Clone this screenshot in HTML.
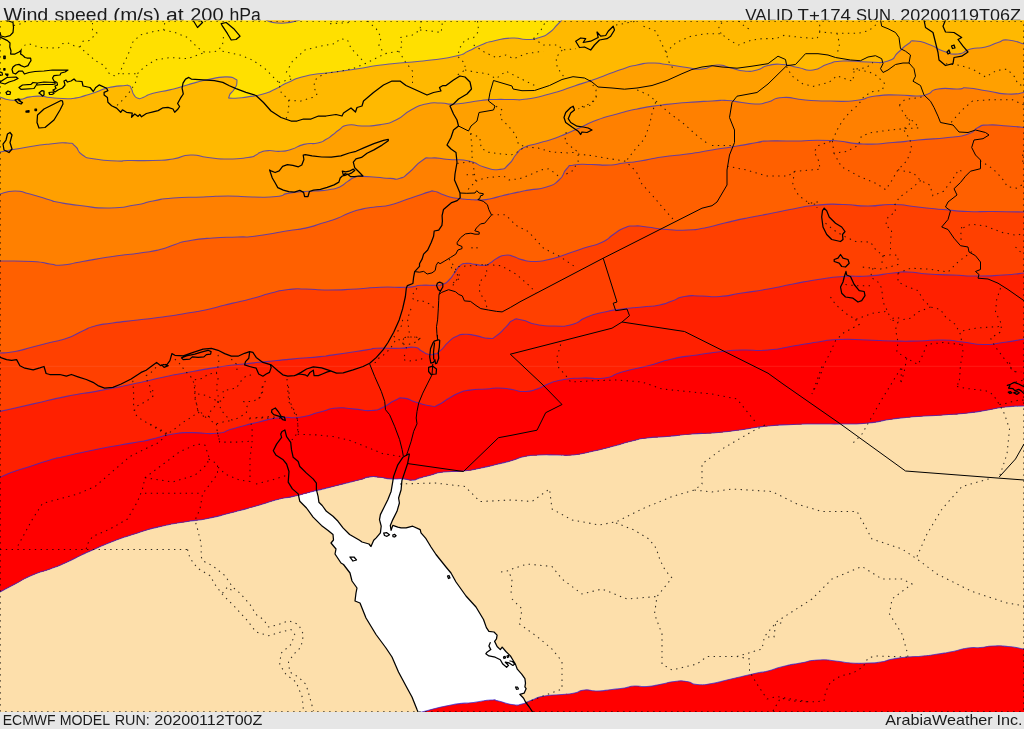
<!DOCTYPE html>
<html><head><meta charset="utf-8"><title>Wind speed (m/s) at 200 hPa</title>
<style>
html,body{margin:0;padding:0;background:#e6e6e6;}
body{width:1024px;height:729px;overflow:hidden;position:relative;font-family:"Liberation Sans",sans-serif;}
svg text{font-family:"Liberation Sans",sans-serif;fill:#1a1a1a;}
</style></head><body>
<svg width="1024" height="729" viewBox="0 0 1024 729" style="position:absolute;left:0;top:0">
<defs><clipPath id="mc"><rect x="0" y="20.6" width="1024" height="691.4"/></clipPath></defs>
<g style="filter:grayscale(1)">
<text x="3.45" y="21" font-size="17.66" textLength="44.90" lengthAdjust="spacingAndGlyphs">Wind</text>
<text x="54.57" y="21" font-size="17.66" textLength="52.89" lengthAdjust="spacingAndGlyphs">speed</text>
<text x="113.37" y="21" font-size="17.66" textLength="46.65" lengthAdjust="spacingAndGlyphs">(m/s)</text>
<text x="165.90" y="21" font-size="17.66" textLength="17.64" lengthAdjust="spacingAndGlyphs">at</text>
<text x="190.20" y="21" font-size="17.66" textLength="33.37" lengthAdjust="spacingAndGlyphs">200</text>
<text x="229.41" y="21" font-size="17.66" textLength="31.38" lengthAdjust="spacingAndGlyphs">hPa</text>
<text x="745.26" y="21" font-size="16.80" textLength="47.82" lengthAdjust="spacingAndGlyphs">VALID</text>
<text x="797.53" y="21" font-size="16.80" textLength="53.40" lengthAdjust="spacingAndGlyphs">T+174</text>
<text x="855.95" y="21" font-size="16.80" textLength="39.63" lengthAdjust="spacingAndGlyphs">SUN.</text>
<text x="900.20" y="21" font-size="16.80" textLength="120.77" lengthAdjust="spacingAndGlyphs">20200119T06Z</text>
<text x="2.78" y="724.90" font-size="14.50" textLength="52.87" lengthAdjust="spacingAndGlyphs">ECMWF</text>
<text x="59.66" y="724.90" font-size="14.50" textLength="50.48" lengthAdjust="spacingAndGlyphs">MODEL</text>
<text x="114.65" y="724.90" font-size="14.50" textLength="35.14" lengthAdjust="spacingAndGlyphs">RUN:</text>
<text x="154.29" y="724.90" font-size="14.50" textLength="108.12" lengthAdjust="spacingAndGlyphs">20200112T00Z</text>
<text x="885.30" y="724.90" font-size="14.50" textLength="107.44" lengthAdjust="spacingAndGlyphs">ArabiaWeather</text>
<text x="996.44" y="724.90" font-size="14.50" textLength="26.11" lengthAdjust="spacingAndGlyphs">Inc.</text>
</g>

<g clip-path="url(#mc)">
<rect x="0" y="20" width="1024" height="693" fill="#fddfab"/>
<path d="M284.9 430.0L282.0 431.5L280.7 434.1L281.6 437.4L276.6 444.1L273.3 450.7L275.8 454.9L283.2 459.8L286.6 464.0L289.0 471.5L288.2 482.2L292.4 488.9L298.2 493.9L299.8 501.3L306.5 508.0L313.1 517.1L321.4 525.4L328.1 530.4L333.0 534.5L333.5 540.0L331.0 543.0L336.0 549.0L335.0 554.0L341.0 563.0L343.5 564.5L350.0 573.0L352.0 581.0L357.0 588.0L356.0 593.0L355.0 601.0L360.0 603.0L366.0 618.0L376.0 634.5L386.0 648.0L392.0 657.0L398.5 672.0L406.0 686.0L412.0 697.0L417.0 709.5L418.5 713.0L533.0 713.0L531.8 710.8L529.3 707.0L525.5 702.0L523.6 698.2L521.7 696.3L519.8 694.4L524.2 693.1L526.1 688.7L524.9 686.8L525.5 683.1L524.9 678.6L521.7 674.2L517.3 669.2L515.4 664.1L513.5 661.0L510.4 655.9L505.9 651.5L502.2 647.1L500.3 649.6L497.1 646.5L494.6 641.4L496.5 638.9L497.1 635.1L494.0 632.0L488.9 631.3L486.4 627.6L483.5 619.5L476.0 607.0L466.0 596.0L456.0 582.0L451.0 573.0L446.0 567.0L436.0 554.5L431.0 547.0L426.0 538.7L421.0 532.9L420.2 529.6L412.7 526.2L406.1 527.9L401.1 527.9L397.8 527.1L392.8 525.4L391.1 530.4L390.3 525.4L392.8 519.6L397.0 511.3L399.4 503.0L398.6 498.0L401.1 489.7L401.9 480.6L404.4 473.1L407.7 463.2L409.4 454.0L408.6 454.0L402.8 457.3L397.8 464.8L393.6 476.4L392.8 481.4L391.1 491.4L387.8 499.7L383.7 508.0L380.4 514.6L379.5 519.6L381.2 526.2L380.4 532.9L376.2 537.9L373.7 540.3L371.0 546.5L369.0 544.0L362.0 542.0L359.6 540.3L349.6 534.5L343.0 527.9L338.0 521.3L333.0 516.3L326.4 511.3L322.2 505.5L318.9 502.2L318.1 496.4L316.4 489.7L316.4 483.1L313.1 478.9L306.5 473.1L299.8 466.5L298.2 461.5L293.2 457.3L291.5 449.9L290.7 442.4L286.6 436.6L284.9 430.0Z" fill="#fff"/>
<path d="M0 20 L1024 20L1024.0 406.0C1017.8 406.3 1017.5 405.7 1005.5 407.0C993.5 408.3 1000.5 408.0 988.0 410.0C975.5 412.0 983.0 411.3 968.0 413.0C953.0 414.7 959.7 413.8 943.0 415.0C926.3 416.2 934.7 415.2 918.0 416.5C901.3 417.8 909.7 416.8 893.0 419.0C876.3 421.2 884.7 421.3 868.0 423.0C851.3 424.7 859.7 423.7 843.0 424.0C826.3 424.3 834.7 423.8 818.0 424.0C801.3 424.2 809.7 423.8 793.0 424.5C776.3 425.2 782.5 424.7 768.0 426.0C753.5 427.3 761.5 426.8 749.5 428.5C737.5 430.2 744.5 429.5 732.0 431.0C719.5 432.5 725.3 432.0 712.0 433.0C698.7 434.0 707.0 432.8 692.0 434.0C677.0 435.2 682.0 435.2 667.0 436.5C652.0 437.8 658.7 436.5 647.0 438.0C635.3 439.5 643.7 438.2 632.0 441.0C620.3 443.8 626.2 442.8 612.0 446.5C597.8 450.2 602.8 449.2 589.5 452.0C576.2 454.8 582.8 454.0 572.0 455.0C561.2 456.0 567.8 455.0 557.0 455.0C546.2 455.0 550.3 454.5 539.5 455.0C528.7 455.5 533.7 454.7 524.5 456.5C515.3 458.3 521.5 457.8 512.0 460.5C502.5 463.2 506.3 462.0 496.0 464.5C485.7 467.0 491.8 465.8 481.0 468.0C470.2 470.2 476.0 469.7 463.5 471.0C451.0 472.3 454.7 470.6 443.5 472.0C432.3 473.4 438.0 473.3 430.0 475.3C422.0 477.3 425.2 476.5 419.4 478.1C413.6 479.7 418.2 479.8 412.7 480.1C407.2 480.4 410.0 479.3 402.8 478.9C395.6 478.5 398.9 479.4 391.1 478.9C383.3 478.4 386.7 478.0 379.5 477.3C372.3 476.6 376.2 476.1 369.6 476.9C363.0 477.7 368.5 477.5 359.6 479.8C350.7 482.1 354.1 481.1 343.0 483.9C331.9 486.7 337.5 485.3 326.4 488.1C315.3 490.9 320.9 489.4 309.8 492.2C298.7 495.0 304.3 493.9 293.2 496.4C282.1 498.9 289.0 496.5 276.6 499.7C264.2 502.9 271.5 501.6 256.0 506.0C240.5 510.4 246.2 508.8 230.0 513.0C213.8 517.2 221.7 515.7 207.5 518.5C193.3 521.3 202.5 519.0 187.5 521.5C172.5 524.0 179.2 522.2 162.5 526.0C145.8 529.8 154.2 527.8 137.5 533.0C120.8 538.2 127.5 535.8 112.5 541.5C97.5 547.2 102.5 545.7 92.5 550.0C82.5 554.3 91.7 550.2 82.5 554.5C73.3 558.8 75.8 558.2 65.0 563.0C54.2 567.8 60.8 565.0 50.0 569.0C39.2 573.0 44.2 570.0 32.5 575.0C20.8 580.0 25.8 578.3 15.0 584.0C4.2 589.7 5.0 589.3 0.0 592.0Z" fill="#ffe000"/>
<path d="M0.0 97.0C3.3 98.0 3.3 99.2 10.0 100.0C16.7 100.8 13.3 100.4 20.0 99.4C26.7 98.4 22.9 98.0 30.0 96.9C37.1 95.8 34.5 96.0 41.2 96.2C47.9 96.4 42.9 96.7 50.0 97.5C57.1 98.3 54.2 98.3 62.5 98.5C70.8 98.7 67.5 99.1 75.0 98.1C82.5 97.1 78.3 97.5 85.0 95.6C91.7 93.7 88.8 94.7 95.0 92.5C101.2 90.3 97.9 90.9 103.7 89.0C109.5 87.1 106.0 88.0 112.5 86.9C119.0 85.8 117.7 86.1 123.2 85.7C128.7 85.3 126.2 84.6 129.0 85.7C131.8 86.8 129.8 85.9 131.5 89.0C133.2 92.1 131.8 91.8 134.0 94.9C136.2 98.0 135.1 97.4 138.1 98.2C141.1 99.0 138.1 99.1 143.1 97.4C148.1 95.7 144.2 95.7 153.1 93.2C162.0 90.7 159.7 92.2 169.7 89.9C179.7 87.6 174.2 88.7 183.0 86.2C191.8 83.7 186.3 84.9 196.2 82.4C206.1 79.9 202.8 80.4 212.8 78.6C222.8 76.8 218.9 76.9 226.1 76.9C233.3 76.9 230.8 76.8 234.4 78.6C238.0 80.4 236.9 78.9 236.9 82.4C236.9 85.9 236.9 84.6 234.4 89.0C231.9 93.4 229.9 92.6 229.4 95.7C228.9 98.8 226.7 97.8 232.8 98.2C238.9 98.6 237.6 98.3 247.7 96.9C257.8 95.5 253.7 96.6 263.0 94.0C272.3 91.4 267.2 92.8 275.5 89.0C283.8 85.2 277.8 86.8 288.0 82.5C298.2 78.2 291.7 79.3 306.0 76.0C320.3 72.7 314.3 74.8 331.0 72.5C347.7 70.2 339.3 71.5 356.0 69.0C372.7 66.5 364.3 67.2 381.0 65.0C397.7 62.8 389.3 64.2 406.0 62.5C422.7 60.8 414.3 62.2 431.0 60.0C447.7 57.8 443.5 59.0 456.0 56.0C468.5 53.0 460.2 54.7 468.5 51.0C476.8 47.3 472.7 48.3 481.0 45.0C489.3 41.7 483.2 43.3 493.5 41.0C503.8 38.7 500.8 38.5 512.0 38.0C523.2 37.5 517.8 39.7 527.0 39.5C536.2 39.3 532.0 39.8 539.5 37.5C547.0 35.2 543.7 36.7 549.5 32.5C555.3 28.3 552.8 29.2 557.0 25.0C561.2 20.8 560.3 21.7 562.0 20.0L1024 20L1024.0 406.0C1017.8 406.3 1017.5 405.7 1005.5 407.0C993.5 408.3 1000.5 408.0 988.0 410.0C975.5 412.0 983.0 411.3 968.0 413.0C953.0 414.7 959.7 413.8 943.0 415.0C926.3 416.2 934.7 415.2 918.0 416.5C901.3 417.8 909.7 416.8 893.0 419.0C876.3 421.2 884.7 421.3 868.0 423.0C851.3 424.7 859.7 423.7 843.0 424.0C826.3 424.3 834.7 423.8 818.0 424.0C801.3 424.2 809.7 423.8 793.0 424.5C776.3 425.2 782.5 424.7 768.0 426.0C753.5 427.3 761.5 426.8 749.5 428.5C737.5 430.2 744.5 429.5 732.0 431.0C719.5 432.5 725.3 432.0 712.0 433.0C698.7 434.0 707.0 432.8 692.0 434.0C677.0 435.2 682.0 435.2 667.0 436.5C652.0 437.8 658.7 436.5 647.0 438.0C635.3 439.5 643.7 438.2 632.0 441.0C620.3 443.8 626.2 442.8 612.0 446.5C597.8 450.2 602.8 449.2 589.5 452.0C576.2 454.8 582.8 454.0 572.0 455.0C561.2 456.0 567.8 455.0 557.0 455.0C546.2 455.0 550.3 454.5 539.5 455.0C528.7 455.5 533.7 454.7 524.5 456.5C515.3 458.3 521.5 457.8 512.0 460.5C502.5 463.2 506.3 462.0 496.0 464.5C485.7 467.0 491.8 465.8 481.0 468.0C470.2 470.2 476.0 469.7 463.5 471.0C451.0 472.3 454.7 470.6 443.5 472.0C432.3 473.4 438.0 473.3 430.0 475.3C422.0 477.3 425.2 476.5 419.4 478.1C413.6 479.7 418.2 479.8 412.7 480.1C407.2 480.4 410.0 479.3 402.8 478.9C395.6 478.5 398.9 479.4 391.1 478.9C383.3 478.4 386.7 478.0 379.5 477.3C372.3 476.6 376.2 476.1 369.6 476.9C363.0 477.7 368.5 477.5 359.6 479.8C350.7 482.1 354.1 481.1 343.0 483.9C331.9 486.7 337.5 485.3 326.4 488.1C315.3 490.9 320.9 489.4 309.8 492.2C298.7 495.0 304.3 493.9 293.2 496.4C282.1 498.9 289.0 496.5 276.6 499.7C264.2 502.9 271.5 501.6 256.0 506.0C240.5 510.4 246.2 508.8 230.0 513.0C213.8 517.2 221.7 515.7 207.5 518.5C193.3 521.3 202.5 519.0 187.5 521.5C172.5 524.0 179.2 522.2 162.5 526.0C145.8 529.8 154.2 527.8 137.5 533.0C120.8 538.2 127.5 535.8 112.5 541.5C97.5 547.2 102.5 545.7 92.5 550.0C82.5 554.3 91.7 550.2 82.5 554.5C73.3 558.8 75.8 558.2 65.0 563.0C54.2 567.8 60.8 565.0 50.0 569.0C39.2 573.0 44.2 570.0 32.5 575.0C20.8 580.0 25.8 578.3 15.0 584.0C4.2 589.7 5.0 589.3 0.0 592.0Z" fill="#ffb900"/>
<path d="M0.0 152.0C8.3 150.5 8.3 150.2 25.0 147.5C41.7 144.8 35.8 145.5 50.0 144.0C64.2 142.5 59.2 142.3 67.5 143.0C75.8 143.7 70.0 142.0 75.0 146.0C80.0 150.0 75.8 150.7 82.5 155.0C89.2 159.3 83.3 157.0 95.0 159.0C106.7 161.0 106.5 160.5 117.5 161.0C128.5 161.5 116.2 160.7 128.0 160.5C139.8 160.3 138.0 161.0 153.0 160.5C168.0 160.0 160.5 160.8 173.0 159.0C185.5 157.2 178.8 155.5 190.5 155.0C202.2 154.5 195.5 156.2 208.0 157.5C220.5 158.8 214.7 159.0 228.0 159.0C241.3 159.0 238.7 158.8 248.0 157.5C257.3 156.2 252.0 156.6 256.0 155.0C260.0 153.4 255.9 154.1 260.0 152.6C264.1 151.1 261.3 151.0 268.2 150.6C275.1 150.2 272.8 151.8 280.6 151.3C288.4 150.8 283.8 151.5 291.6 149.2C299.4 146.9 295.2 146.5 303.9 144.4C312.6 142.3 310.3 144.6 317.6 143.0C324.9 141.4 320.8 142.3 325.8 139.6C330.8 136.9 328.3 138.0 332.7 134.8C337.1 131.6 333.8 133.3 338.9 130.0C344.0 126.7 340.0 126.3 348.0 125.0C356.0 123.7 352.0 126.2 363.0 126.0C374.0 125.8 370.0 126.5 381.0 124.5C392.0 122.5 386.0 124.8 396.0 120.0C406.0 115.2 401.0 115.3 411.0 110.0C421.0 104.7 416.0 106.3 426.0 104.0C436.0 101.7 431.0 103.0 441.0 103.0C451.0 103.0 442.7 104.8 456.0 104.0C469.3 103.2 467.7 102.0 481.0 100.5C494.3 99.0 485.7 99.8 496.0 99.5C506.3 99.2 501.7 99.7 512.0 99.5C522.3 99.3 514.5 100.8 527.0 99.0C539.5 97.2 533.7 98.3 549.5 94.0C565.3 89.7 557.8 91.5 574.5 86.0C591.2 80.5 584.5 82.8 599.5 77.5C614.5 72.2 607.0 74.2 619.5 70.0C632.0 65.8 626.2 67.3 637.0 65.0C647.8 62.7 642.0 63.2 652.0 63.0C662.0 62.8 655.3 63.0 667.0 64.5C678.7 66.0 675.3 66.0 687.0 67.5C698.7 69.0 692.0 69.8 702.0 69.0C712.0 68.2 707.8 65.5 717.0 65.0C726.2 64.5 720.3 65.5 729.5 67.5C738.7 69.5 735.3 70.2 744.5 71.0C753.7 71.8 749.2 71.8 757.0 70.0C764.8 68.2 759.3 67.3 768.0 65.5C776.7 63.7 773.0 63.8 783.0 64.5C793.0 65.2 788.0 65.7 798.0 67.5C808.0 69.3 803.0 71.2 813.0 70.0C823.0 68.8 818.0 67.0 828.0 64.0C838.0 61.0 829.7 61.7 843.0 61.0C856.3 60.3 853.0 62.0 868.0 62.0C883.0 62.0 878.0 64.2 888.0 61.0C898.0 57.8 891.3 58.2 898.0 52.5C904.7 46.8 902.2 47.8 908.0 44.0C913.8 40.2 908.0 40.7 915.5 41.0C923.0 41.3 921.3 41.7 930.5 45.0C939.7 48.3 933.8 48.0 943.0 51.0C952.2 54.0 948.8 54.7 958.0 54.0C967.2 53.3 961.3 51.3 970.5 49.0C979.7 46.7 976.3 49.2 985.5 47.0C994.7 44.8 990.5 44.8 998.0 42.5C1005.5 40.2 999.3 39.5 1008.0 40.0C1016.7 40.5 1018.7 42.7 1024.0 44.0L1024.0 406.0C1017.8 406.3 1017.5 405.7 1005.5 407.0C993.5 408.3 1000.5 408.0 988.0 410.0C975.5 412.0 983.0 411.3 968.0 413.0C953.0 414.7 959.7 413.8 943.0 415.0C926.3 416.2 934.7 415.2 918.0 416.5C901.3 417.8 909.7 416.8 893.0 419.0C876.3 421.2 884.7 421.3 868.0 423.0C851.3 424.7 859.7 423.7 843.0 424.0C826.3 424.3 834.7 423.8 818.0 424.0C801.3 424.2 809.7 423.8 793.0 424.5C776.3 425.2 782.5 424.7 768.0 426.0C753.5 427.3 761.5 426.8 749.5 428.5C737.5 430.2 744.5 429.5 732.0 431.0C719.5 432.5 725.3 432.0 712.0 433.0C698.7 434.0 707.0 432.8 692.0 434.0C677.0 435.2 682.0 435.2 667.0 436.5C652.0 437.8 658.7 436.5 647.0 438.0C635.3 439.5 643.7 438.2 632.0 441.0C620.3 443.8 626.2 442.8 612.0 446.5C597.8 450.2 602.8 449.2 589.5 452.0C576.2 454.8 582.8 454.0 572.0 455.0C561.2 456.0 567.8 455.0 557.0 455.0C546.2 455.0 550.3 454.5 539.5 455.0C528.7 455.5 533.7 454.7 524.5 456.5C515.3 458.3 521.5 457.8 512.0 460.5C502.5 463.2 506.3 462.0 496.0 464.5C485.7 467.0 491.8 465.8 481.0 468.0C470.2 470.2 476.0 469.7 463.5 471.0C451.0 472.3 454.7 470.6 443.5 472.0C432.3 473.4 438.0 473.3 430.0 475.3C422.0 477.3 425.2 476.5 419.4 478.1C413.6 479.7 418.2 479.8 412.7 480.1C407.2 480.4 410.0 479.3 402.8 478.9C395.6 478.5 398.9 479.4 391.1 478.9C383.3 478.4 386.7 478.0 379.5 477.3C372.3 476.6 376.2 476.1 369.6 476.9C363.0 477.7 368.5 477.5 359.6 479.8C350.7 482.1 354.1 481.1 343.0 483.9C331.9 486.7 337.5 485.3 326.4 488.1C315.3 490.9 320.9 489.4 309.8 492.2C298.7 495.0 304.3 493.9 293.2 496.4C282.1 498.9 289.0 496.5 276.6 499.7C264.2 502.9 271.5 501.6 256.0 506.0C240.5 510.4 246.2 508.8 230.0 513.0C213.8 517.2 221.7 515.7 207.5 518.5C193.3 521.3 202.5 519.0 187.5 521.5C172.5 524.0 179.2 522.2 162.5 526.0C145.8 529.8 154.2 527.8 137.5 533.0C120.8 538.2 127.5 535.8 112.5 541.5C97.5 547.2 102.5 545.7 92.5 550.0C82.5 554.3 91.7 550.2 82.5 554.5C73.3 558.8 75.8 558.2 65.0 563.0C54.2 567.8 60.8 565.0 50.0 569.0C39.2 573.0 44.2 570.0 32.5 575.0C20.8 580.0 25.8 578.3 15.0 584.0C4.2 589.7 5.0 589.3 0.0 592.0Z" fill="#ffa000"/>
<path d="M0.0 194.0C5.0 193.0 5.0 191.0 15.0 191.0C25.0 191.0 18.3 191.0 30.0 194.0C41.7 197.0 41.0 197.3 50.0 200.0C59.0 202.7 47.0 200.2 57.0 202.0C67.0 203.8 62.3 203.5 80.0 205.5C97.7 207.5 91.7 208.2 110.0 208.0C128.3 207.8 120.7 207.3 135.0 205.0C149.3 202.7 140.3 203.3 153.0 201.0C165.7 198.7 156.3 199.3 173.0 198.0C189.7 196.7 184.7 197.7 203.0 197.0C221.3 196.3 211.3 196.0 228.0 196.0C244.7 196.0 236.8 196.8 253.0 197.0C269.2 197.2 265.0 197.7 276.5 196.5C288.0 195.3 279.2 195.0 287.4 193.4C295.6 191.8 292.0 192.5 301.2 191.7C310.4 190.9 305.8 191.7 314.9 191.0C324.0 190.3 320.4 191.1 328.6 189.7C336.8 188.3 333.2 189.7 339.6 186.9C346.0 184.1 342.8 184.6 347.8 181.4C352.8 178.2 349.7 179.0 354.7 177.3C359.7 175.6 355.6 176.4 362.9 176.4C370.2 176.4 367.5 176.6 376.6 177.3C385.7 178.0 382.5 178.1 390.3 178.4C398.1 178.7 393.8 180.3 400.0 178.3C406.2 176.3 401.8 178.3 409.0 172.5C416.2 166.7 414.0 165.8 421.5 161.0C429.0 156.2 422.3 158.5 431.5 158.0C440.7 157.5 436.5 158.5 449.0 159.5C461.5 160.5 457.3 158.5 469.0 161.0C480.7 163.5 474.0 164.2 484.0 167.0C494.0 169.8 490.7 170.5 499.0 169.5C507.3 168.5 503.2 169.2 509.0 164.0C514.8 158.8 511.5 159.5 516.5 154.0C521.5 148.5 516.5 151.2 524.0 147.5C531.5 143.8 528.0 146.3 539.0 143.0C550.0 139.7 544.3 142.2 557.0 137.5C569.7 132.8 563.7 134.8 577.0 129.0C590.3 123.2 583.7 125.0 597.0 120.0C610.3 115.0 603.7 117.7 617.0 114.0C630.3 110.3 622.0 112.0 637.0 109.0C652.0 106.0 645.3 107.2 662.0 105.0C678.7 102.8 670.3 103.8 687.0 102.5C703.7 101.2 698.7 101.7 712.0 101.0C725.3 100.3 717.0 100.0 727.0 100.5C737.0 101.0 732.0 101.3 742.0 102.5C752.0 103.7 748.3 104.2 757.0 104.0C765.7 103.8 759.3 104.2 768.0 102.0C776.7 99.8 770.5 98.2 783.0 97.5C795.5 96.8 789.7 98.8 805.5 100.0C821.3 101.2 813.8 100.8 830.5 101.0C847.2 101.2 840.5 102.2 855.5 100.5C870.5 98.8 861.3 97.8 875.5 96.0C889.7 94.2 883.8 95.0 898.0 95.0C912.2 95.0 908.0 96.3 918.0 96.0C928.0 95.7 921.3 96.3 928.0 94.0C934.7 91.7 928.0 90.7 938.0 89.0C948.0 87.3 948.0 89.3 958.0 89.0C968.0 88.7 958.0 87.3 968.0 88.0C978.0 88.7 974.7 89.0 988.0 91.0C1001.3 93.0 996.0 93.5 1008.0 94.0C1020.0 94.5 1018.7 93.0 1024.0 92.5L1024.0 406.0C1017.8 406.3 1017.5 405.7 1005.5 407.0C993.5 408.3 1000.5 408.0 988.0 410.0C975.5 412.0 983.0 411.3 968.0 413.0C953.0 414.7 959.7 413.8 943.0 415.0C926.3 416.2 934.7 415.2 918.0 416.5C901.3 417.8 909.7 416.8 893.0 419.0C876.3 421.2 884.7 421.3 868.0 423.0C851.3 424.7 859.7 423.7 843.0 424.0C826.3 424.3 834.7 423.8 818.0 424.0C801.3 424.2 809.7 423.8 793.0 424.5C776.3 425.2 782.5 424.7 768.0 426.0C753.5 427.3 761.5 426.8 749.5 428.5C737.5 430.2 744.5 429.5 732.0 431.0C719.5 432.5 725.3 432.0 712.0 433.0C698.7 434.0 707.0 432.8 692.0 434.0C677.0 435.2 682.0 435.2 667.0 436.5C652.0 437.8 658.7 436.5 647.0 438.0C635.3 439.5 643.7 438.2 632.0 441.0C620.3 443.8 626.2 442.8 612.0 446.5C597.8 450.2 602.8 449.2 589.5 452.0C576.2 454.8 582.8 454.0 572.0 455.0C561.2 456.0 567.8 455.0 557.0 455.0C546.2 455.0 550.3 454.5 539.5 455.0C528.7 455.5 533.7 454.7 524.5 456.5C515.3 458.3 521.5 457.8 512.0 460.5C502.5 463.2 506.3 462.0 496.0 464.5C485.7 467.0 491.8 465.8 481.0 468.0C470.2 470.2 476.0 469.7 463.5 471.0C451.0 472.3 454.7 470.6 443.5 472.0C432.3 473.4 438.0 473.3 430.0 475.3C422.0 477.3 425.2 476.5 419.4 478.1C413.6 479.7 418.2 479.8 412.7 480.1C407.2 480.4 410.0 479.3 402.8 478.9C395.6 478.5 398.9 479.4 391.1 478.9C383.3 478.4 386.7 478.0 379.5 477.3C372.3 476.6 376.2 476.1 369.6 476.9C363.0 477.7 368.5 477.5 359.6 479.8C350.7 482.1 354.1 481.1 343.0 483.9C331.9 486.7 337.5 485.3 326.4 488.1C315.3 490.9 320.9 489.4 309.8 492.2C298.7 495.0 304.3 493.9 293.2 496.4C282.1 498.9 289.0 496.5 276.6 499.7C264.2 502.9 271.5 501.6 256.0 506.0C240.5 510.4 246.2 508.8 230.0 513.0C213.8 517.2 221.7 515.7 207.5 518.5C193.3 521.3 202.5 519.0 187.5 521.5C172.5 524.0 179.2 522.2 162.5 526.0C145.8 529.8 154.2 527.8 137.5 533.0C120.8 538.2 127.5 535.8 112.5 541.5C97.5 547.2 102.5 545.7 92.5 550.0C82.5 554.3 91.7 550.2 82.5 554.5C73.3 558.8 75.8 558.2 65.0 563.0C54.2 567.8 60.8 565.0 50.0 569.0C39.2 573.0 44.2 570.0 32.5 575.0C20.8 580.0 25.8 578.3 15.0 584.0C4.2 589.7 5.0 589.3 0.0 592.0Z" fill="#ff8000"/>
<path d="M0.0 261.0C10.8 261.2 15.8 260.5 32.5 261.5C49.2 262.5 40.0 262.8 50.0 264.0C60.0 265.2 51.7 265.8 62.5 265.0C73.3 264.2 65.8 264.3 82.5 261.5C99.2 258.7 93.3 259.3 112.5 256.5C131.7 253.7 124.2 255.3 140.0 253.0C155.8 250.7 148.3 252.3 160.0 249.5C171.7 246.7 165.8 247.3 175.0 244.5C184.2 241.7 175.0 243.2 187.5 241.0C200.0 238.8 195.8 239.3 212.5 238.0C229.2 236.7 223.0 237.7 237.5 237.0C252.0 236.3 239.8 238.0 256.0 236.0C272.2 234.0 269.6 233.6 286.0 231.0C302.4 228.4 293.4 230.7 305.3 228.1C317.2 225.5 311.2 226.5 321.7 223.3C332.2 220.1 327.6 221.9 336.8 218.5C346.0 215.1 340.5 216.2 349.2 213.0C357.9 209.8 353.8 211.0 362.9 208.9C372.0 206.8 367.6 208.1 376.6 206.8C385.6 205.5 381.0 207.1 390.0 205.0C399.0 202.9 394.6 203.7 403.7 200.6C412.8 197.5 409.2 198.6 417.4 195.8C425.6 193.0 422.9 193.6 428.4 192.1C433.9 190.6 429.8 190.7 433.9 191.2C438.0 191.7 435.8 191.9 440.8 193.7C445.8 195.5 443.1 195.1 449.0 196.7C454.9 198.3 451.7 197.6 458.6 198.5C465.5 199.4 463.2 199.0 469.6 199.5C476.0 200.0 472.3 199.9 477.8 199.9C483.3 199.9 479.6 200.5 486.0 199.6C492.4 198.7 489.7 198.8 497.0 197.1C504.3 195.4 500.2 196.2 508.0 194.4C515.8 192.6 513.0 193.2 520.3 191.7C527.6 190.2 521.3 191.5 530.0 189.9C538.7 188.3 536.8 190.3 546.5 187.0C556.2 183.7 552.3 186.0 559.0 180.0C565.7 174.0 561.5 174.0 566.5 169.0C571.5 164.0 565.7 166.5 574.0 165.0C582.3 163.5 579.8 164.5 591.5 164.5C603.2 164.5 598.2 165.5 609.0 165.0C619.8 164.5 613.7 164.3 624.0 163.0C634.3 161.7 627.3 163.0 640.0 161.0C652.7 159.0 646.3 159.3 662.0 157.0C677.7 154.7 670.3 156.3 687.0 154.0C703.7 151.7 695.3 152.7 712.0 150.0C728.7 147.3 722.0 148.5 737.0 146.0C752.0 143.5 746.7 144.2 757.0 142.5C767.3 140.8 756.0 141.5 768.0 141.0C780.0 140.5 772.2 141.2 793.0 141.0C813.8 140.8 807.2 139.5 830.5 140.5C853.8 141.5 842.2 143.3 863.0 144.0C883.8 144.7 874.7 143.8 893.0 142.5C911.3 141.2 899.7 141.7 918.0 140.0C936.3 138.3 931.3 139.5 948.0 137.5C964.7 135.5 958.0 137.3 968.0 134.0C978.0 130.7 971.3 130.5 978.0 127.5C984.7 124.5 978.0 125.5 988.0 125.0C998.0 124.5 996.0 125.2 1008.0 126.0C1020.0 126.8 1018.7 127.0 1024.0 127.5L1024.0 406.0C1017.8 406.3 1017.5 405.7 1005.5 407.0C993.5 408.3 1000.5 408.0 988.0 410.0C975.5 412.0 983.0 411.3 968.0 413.0C953.0 414.7 959.7 413.8 943.0 415.0C926.3 416.2 934.7 415.2 918.0 416.5C901.3 417.8 909.7 416.8 893.0 419.0C876.3 421.2 884.7 421.3 868.0 423.0C851.3 424.7 859.7 423.7 843.0 424.0C826.3 424.3 834.7 423.8 818.0 424.0C801.3 424.2 809.7 423.8 793.0 424.5C776.3 425.2 782.5 424.7 768.0 426.0C753.5 427.3 761.5 426.8 749.5 428.5C737.5 430.2 744.5 429.5 732.0 431.0C719.5 432.5 725.3 432.0 712.0 433.0C698.7 434.0 707.0 432.8 692.0 434.0C677.0 435.2 682.0 435.2 667.0 436.5C652.0 437.8 658.7 436.5 647.0 438.0C635.3 439.5 643.7 438.2 632.0 441.0C620.3 443.8 626.2 442.8 612.0 446.5C597.8 450.2 602.8 449.2 589.5 452.0C576.2 454.8 582.8 454.0 572.0 455.0C561.2 456.0 567.8 455.0 557.0 455.0C546.2 455.0 550.3 454.5 539.5 455.0C528.7 455.5 533.7 454.7 524.5 456.5C515.3 458.3 521.5 457.8 512.0 460.5C502.5 463.2 506.3 462.0 496.0 464.5C485.7 467.0 491.8 465.8 481.0 468.0C470.2 470.2 476.0 469.7 463.5 471.0C451.0 472.3 454.7 470.6 443.5 472.0C432.3 473.4 438.0 473.3 430.0 475.3C422.0 477.3 425.2 476.5 419.4 478.1C413.6 479.7 418.2 479.8 412.7 480.1C407.2 480.4 410.0 479.3 402.8 478.9C395.6 478.5 398.9 479.4 391.1 478.9C383.3 478.4 386.7 478.0 379.5 477.3C372.3 476.6 376.2 476.1 369.6 476.9C363.0 477.7 368.5 477.5 359.6 479.8C350.7 482.1 354.1 481.1 343.0 483.9C331.9 486.7 337.5 485.3 326.4 488.1C315.3 490.9 320.9 489.4 309.8 492.2C298.7 495.0 304.3 493.9 293.2 496.4C282.1 498.9 289.0 496.5 276.6 499.7C264.2 502.9 271.5 501.6 256.0 506.0C240.5 510.4 246.2 508.8 230.0 513.0C213.8 517.2 221.7 515.7 207.5 518.5C193.3 521.3 202.5 519.0 187.5 521.5C172.5 524.0 179.2 522.2 162.5 526.0C145.8 529.8 154.2 527.8 137.5 533.0C120.8 538.2 127.5 535.8 112.5 541.5C97.5 547.2 102.5 545.7 92.5 550.0C82.5 554.3 91.7 550.2 82.5 554.5C73.3 558.8 75.8 558.2 65.0 563.0C54.2 567.8 60.8 565.0 50.0 569.0C39.2 573.0 44.2 570.0 32.5 575.0C20.8 580.0 25.8 578.3 15.0 584.0C4.2 589.7 5.0 589.3 0.0 592.0Z" fill="#ff6000"/>
<path d="M0.0 353.0C5.0 352.5 4.2 353.5 15.0 351.5C25.8 349.5 20.8 350.0 32.5 347.0C44.2 344.0 38.3 345.5 50.0 342.5C61.7 339.5 56.7 341.8 67.5 338.0C78.3 334.2 73.3 335.0 82.5 331.0C91.7 327.0 85.0 328.7 95.0 326.0C105.0 323.3 98.3 325.0 112.5 323.0C126.7 321.0 120.8 322.0 137.5 320.0C154.2 318.0 145.8 319.3 162.5 317.0C179.2 314.7 172.5 315.5 187.5 313.0C202.5 310.5 195.0 312.2 207.5 309.5C220.0 306.8 214.2 307.7 225.0 305.0C235.8 302.3 229.7 304.0 240.0 301.5C250.3 299.0 245.7 300.3 256.0 297.5C266.3 294.7 260.2 295.7 271.0 293.0C281.8 290.3 276.8 290.8 288.5 289.5C300.2 288.2 292.7 288.8 306.0 289.0C319.3 289.2 311.8 290.0 328.5 290.0C345.2 290.0 338.8 289.9 356.0 289.0C373.2 288.1 363.3 287.8 380.0 287.2C396.7 286.6 392.3 287.8 406.0 287.2C419.7 286.6 411.6 285.9 421.2 285.3C430.8 284.7 427.6 285.7 434.9 285.3C442.2 284.9 438.2 286.1 443.1 284.2C448.0 282.3 445.7 283.2 449.5 279.5C453.3 275.8 451.0 277.6 454.5 273.0C458.0 268.4 455.9 268.9 460.0 265.7C464.1 262.5 461.8 263.8 466.8 263.4C471.8 263.0 469.0 263.8 475.0 264.4C481.0 265.0 479.7 265.8 484.7 265.3C489.7 264.8 486.0 265.4 490.1 263.0C494.2 260.6 492.0 260.8 497.0 258.2C502.0 255.6 499.7 255.8 505.2 255.2C510.7 254.6 508.0 255.0 513.5 256.5C519.0 258.0 514.9 257.9 521.7 259.6C528.5 261.3 524.9 261.5 534.0 261.5C543.1 261.5 539.0 261.7 549.0 259.5C559.0 257.3 552.3 258.8 564.0 255.0C575.7 251.2 571.5 252.2 584.0 248.0C596.5 243.8 591.5 247.2 601.5 242.5C611.5 237.8 606.5 238.8 614.0 234.0C621.5 229.2 617.3 230.7 624.0 228.0C630.7 225.3 626.3 226.3 634.0 226.0C641.7 225.7 636.0 225.8 647.0 227.0C658.0 228.2 653.7 228.5 667.0 229.5C680.3 230.5 674.5 230.5 687.0 230.0C699.5 229.5 692.0 230.3 704.5 228.0C717.0 225.7 710.3 226.3 724.5 223.0C738.7 219.7 732.5 221.0 747.0 218.0C761.5 215.0 752.7 217.0 768.0 214.0C783.3 211.0 776.3 212.0 793.0 209.0C809.7 206.0 801.3 206.5 818.0 205.0C834.7 203.5 826.3 204.2 843.0 204.5C859.7 204.8 851.3 206.0 868.0 206.0C884.7 206.0 876.3 204.2 893.0 204.5C909.7 204.8 901.3 205.3 918.0 207.0C934.7 208.7 926.3 208.0 943.0 209.5C959.7 211.0 951.3 210.8 968.0 211.5C984.7 212.2 974.3 211.3 993.0 211.5C1011.7 211.7 1013.7 211.8 1024.0 212.0L1024.0 406.0C1017.8 406.3 1017.5 405.7 1005.5 407.0C993.5 408.3 1000.5 408.0 988.0 410.0C975.5 412.0 983.0 411.3 968.0 413.0C953.0 414.7 959.7 413.8 943.0 415.0C926.3 416.2 934.7 415.2 918.0 416.5C901.3 417.8 909.7 416.8 893.0 419.0C876.3 421.2 884.7 421.3 868.0 423.0C851.3 424.7 859.7 423.7 843.0 424.0C826.3 424.3 834.7 423.8 818.0 424.0C801.3 424.2 809.7 423.8 793.0 424.5C776.3 425.2 782.5 424.7 768.0 426.0C753.5 427.3 761.5 426.8 749.5 428.5C737.5 430.2 744.5 429.5 732.0 431.0C719.5 432.5 725.3 432.0 712.0 433.0C698.7 434.0 707.0 432.8 692.0 434.0C677.0 435.2 682.0 435.2 667.0 436.5C652.0 437.8 658.7 436.5 647.0 438.0C635.3 439.5 643.7 438.2 632.0 441.0C620.3 443.8 626.2 442.8 612.0 446.5C597.8 450.2 602.8 449.2 589.5 452.0C576.2 454.8 582.8 454.0 572.0 455.0C561.2 456.0 567.8 455.0 557.0 455.0C546.2 455.0 550.3 454.5 539.5 455.0C528.7 455.5 533.7 454.7 524.5 456.5C515.3 458.3 521.5 457.8 512.0 460.5C502.5 463.2 506.3 462.0 496.0 464.5C485.7 467.0 491.8 465.8 481.0 468.0C470.2 470.2 476.0 469.7 463.5 471.0C451.0 472.3 454.7 470.6 443.5 472.0C432.3 473.4 438.0 473.3 430.0 475.3C422.0 477.3 425.2 476.5 419.4 478.1C413.6 479.7 418.2 479.8 412.7 480.1C407.2 480.4 410.0 479.3 402.8 478.9C395.6 478.5 398.9 479.4 391.1 478.9C383.3 478.4 386.7 478.0 379.5 477.3C372.3 476.6 376.2 476.1 369.6 476.9C363.0 477.7 368.5 477.5 359.6 479.8C350.7 482.1 354.1 481.1 343.0 483.9C331.9 486.7 337.5 485.3 326.4 488.1C315.3 490.9 320.9 489.4 309.8 492.2C298.7 495.0 304.3 493.9 293.2 496.4C282.1 498.9 289.0 496.5 276.6 499.7C264.2 502.9 271.5 501.6 256.0 506.0C240.5 510.4 246.2 508.8 230.0 513.0C213.8 517.2 221.7 515.7 207.5 518.5C193.3 521.3 202.5 519.0 187.5 521.5C172.5 524.0 179.2 522.2 162.5 526.0C145.8 529.8 154.2 527.8 137.5 533.0C120.8 538.2 127.5 535.8 112.5 541.5C97.5 547.2 102.5 545.7 92.5 550.0C82.5 554.3 91.7 550.2 82.5 554.5C73.3 558.8 75.8 558.2 65.0 563.0C54.2 567.8 60.8 565.0 50.0 569.0C39.2 573.0 44.2 570.0 32.5 575.0C20.8 580.0 25.8 578.3 15.0 584.0C4.2 589.7 5.0 589.3 0.0 592.0Z" fill="#ff4000"/>
<path d="M0.0 411.4C11.1 408.9 11.1 408.9 33.2 403.9C55.3 398.9 44.3 400.8 66.4 396.4C88.5 392.0 77.5 394.7 99.6 390.6C121.7 386.5 116.0 387.5 132.8 384.0C149.6 380.5 137.6 383.0 150.0 380.2C162.4 377.4 158.9 378.0 170.0 375.7C181.1 373.4 167.7 376.0 183.2 373.2C198.7 370.4 196.5 370.5 216.4 367.4C236.3 364.3 226.4 365.9 243.0 364.0C259.6 362.1 250.2 363.2 266.2 361.6C282.2 360.0 273.2 360.8 291.1 359.1C309.0 357.4 306.0 358.0 320.0 356.6C334.0 355.2 317.7 357.1 333.2 354.9C348.7 352.7 352.0 352.1 366.4 349.9C380.8 347.7 365.3 348.8 376.4 348.3C387.5 347.8 387.0 348.6 399.6 348.3C412.2 348.0 407.1 346.5 414.3 347.3C421.5 348.1 416.6 348.4 421.2 350.7C425.8 353.0 423.4 353.1 428.0 354.2C432.6 355.3 430.8 355.1 434.9 353.9C439.0 352.7 435.8 354.7 440.4 350.7C445.0 346.7 443.1 346.6 448.6 341.8C454.1 337.0 451.3 338.8 456.8 336.3C462.3 333.8 458.6 334.5 465.0 334.3C471.4 334.1 468.2 334.2 476.0 335.6C483.8 337.0 481.5 338.4 488.4 338.4C495.3 338.4 490.7 339.5 496.6 335.6C502.5 331.7 500.7 331.8 506.2 326.7C511.7 321.6 507.8 322.4 513.1 320.2C518.4 318.0 514.0 318.6 522.0 320.0C530.0 321.4 526.2 322.5 537.0 324.5C547.8 326.5 542.8 326.0 554.5 326.0C566.2 326.0 561.2 327.5 572.0 324.5C582.8 321.5 576.2 321.2 587.0 317.0C597.8 312.8 592.8 314.7 604.5 312.0C616.2 309.3 609.5 310.7 622.0 309.0C634.5 307.3 629.5 308.3 642.0 307.0C654.5 305.7 649.5 307.0 659.5 305.0C669.5 303.0 663.7 303.8 672.0 301.0C680.3 298.2 674.5 298.2 684.5 296.5C694.5 294.8 690.3 296.0 702.0 296.0C713.7 296.0 706.2 297.5 719.5 296.5C732.8 295.5 725.8 295.5 742.0 293.0C758.2 290.5 751.0 292.0 768.0 289.0C785.0 286.0 776.3 287.2 793.0 284.0C809.7 280.8 801.3 282.0 818.0 279.5C834.7 277.0 826.3 277.7 843.0 276.5C859.7 275.3 851.3 277.2 868.0 276.0C884.7 274.8 879.7 274.3 893.0 273.0C906.3 271.7 896.3 271.7 908.0 272.0C919.7 272.3 913.0 273.0 928.0 274.0C943.0 275.0 936.3 274.3 953.0 275.0C969.7 275.7 961.3 276.0 978.0 276.0C994.7 276.0 987.7 276.0 1003.0 275.0C1018.3 274.0 1017.0 273.7 1024.0 273.0L1024.0 406.0C1017.8 406.3 1017.5 405.7 1005.5 407.0C993.5 408.3 1000.5 408.0 988.0 410.0C975.5 412.0 983.0 411.3 968.0 413.0C953.0 414.7 959.7 413.8 943.0 415.0C926.3 416.2 934.7 415.2 918.0 416.5C901.3 417.8 909.7 416.8 893.0 419.0C876.3 421.2 884.7 421.3 868.0 423.0C851.3 424.7 859.7 423.7 843.0 424.0C826.3 424.3 834.7 423.8 818.0 424.0C801.3 424.2 809.7 423.8 793.0 424.5C776.3 425.2 782.5 424.7 768.0 426.0C753.5 427.3 761.5 426.8 749.5 428.5C737.5 430.2 744.5 429.5 732.0 431.0C719.5 432.5 725.3 432.0 712.0 433.0C698.7 434.0 707.0 432.8 692.0 434.0C677.0 435.2 682.0 435.2 667.0 436.5C652.0 437.8 658.7 436.5 647.0 438.0C635.3 439.5 643.7 438.2 632.0 441.0C620.3 443.8 626.2 442.8 612.0 446.5C597.8 450.2 602.8 449.2 589.5 452.0C576.2 454.8 582.8 454.0 572.0 455.0C561.2 456.0 567.8 455.0 557.0 455.0C546.2 455.0 550.3 454.5 539.5 455.0C528.7 455.5 533.7 454.7 524.5 456.5C515.3 458.3 521.5 457.8 512.0 460.5C502.5 463.2 506.3 462.0 496.0 464.5C485.7 467.0 491.8 465.8 481.0 468.0C470.2 470.2 476.0 469.7 463.5 471.0C451.0 472.3 454.7 470.6 443.5 472.0C432.3 473.4 438.0 473.3 430.0 475.3C422.0 477.3 425.2 476.5 419.4 478.1C413.6 479.7 418.2 479.8 412.7 480.1C407.2 480.4 410.0 479.3 402.8 478.9C395.6 478.5 398.9 479.4 391.1 478.9C383.3 478.4 386.7 478.0 379.5 477.3C372.3 476.6 376.2 476.1 369.6 476.9C363.0 477.7 368.5 477.5 359.6 479.8C350.7 482.1 354.1 481.1 343.0 483.9C331.9 486.7 337.5 485.3 326.4 488.1C315.3 490.9 320.9 489.4 309.8 492.2C298.7 495.0 304.3 493.9 293.2 496.4C282.1 498.9 289.0 496.5 276.6 499.7C264.2 502.9 271.5 501.6 256.0 506.0C240.5 510.4 246.2 508.8 230.0 513.0C213.8 517.2 221.7 515.7 207.5 518.5C193.3 521.3 202.5 519.0 187.5 521.5C172.5 524.0 179.2 522.2 162.5 526.0C145.8 529.8 154.2 527.8 137.5 533.0C120.8 538.2 127.5 535.8 112.5 541.5C97.5 547.2 102.5 545.7 92.5 550.0C82.5 554.3 91.7 550.2 82.5 554.5C73.3 558.8 75.8 558.2 65.0 563.0C54.2 567.8 60.8 565.0 50.0 569.0C39.2 573.0 44.2 570.0 32.5 575.0C20.8 580.0 25.8 578.3 15.0 584.0C4.2 589.7 5.0 589.3 0.0 592.0Z" fill="#ff2000"/>
<path d="M0.0 477.5C3.3 476.0 1.7 476.2 10.0 473.0C18.3 469.8 11.7 472.3 25.0 468.0C38.3 463.7 36.2 464.0 50.0 460.0C63.8 456.0 49.9 459.8 66.4 456.0C82.9 452.2 77.5 453.1 99.6 448.7C121.7 444.3 116.0 445.9 132.8 442.9C149.6 439.9 137.1 442.5 150.0 439.6C162.9 436.7 157.8 436.6 171.6 434.3C185.4 432.0 176.6 432.9 191.5 432.6C206.4 432.3 202.6 434.6 216.4 433.3C230.2 432.0 219.2 432.5 233.0 428.8C246.8 425.1 242.4 425.9 257.9 422.2C273.4 418.5 265.7 419.4 279.5 417.7C293.3 416.0 285.9 419.1 299.4 417.2C312.9 415.3 307.6 415.1 320.0 412.0C332.4 408.9 325.5 409.0 336.5 408.0C347.5 407.0 341.5 408.1 353.1 408.9C364.7 409.7 361.4 411.1 371.4 410.5C381.4 409.9 375.3 410.5 383.0 407.2C390.7 403.9 387.7 403.6 394.6 400.6C401.5 397.6 396.5 397.6 403.7 398.1C410.9 398.6 407.1 399.6 416.2 402.2C425.3 404.8 423.9 405.1 431.1 406.0C438.3 406.9 431.7 407.6 437.8 405.0C443.9 402.4 442.2 402.2 449.4 398.1C456.6 394.0 452.5 395.5 459.4 392.8C466.3 390.1 461.1 391.4 470.0 390.1C478.9 388.8 476.5 389.7 486.0 389.0C495.5 388.3 489.8 387.8 498.5 388.0C507.2 388.2 503.3 388.3 512.0 389.5C520.7 390.7 516.2 391.7 524.5 391.5C532.8 391.3 529.2 391.5 537.0 389.0C544.8 386.5 539.7 387.0 548.0 384.0C556.3 381.0 550.7 382.0 562.0 380.0C573.3 378.0 567.8 378.7 582.0 378.0C596.2 377.3 591.2 380.0 604.5 378.0C617.8 376.0 607.8 376.0 622.0 372.0C636.2 368.0 630.3 370.3 647.0 366.0C663.7 361.7 655.3 362.7 672.0 359.0C688.7 355.3 680.3 357.5 697.0 355.0C713.7 352.5 707.0 353.2 722.0 351.5C737.0 349.8 726.7 350.5 742.0 350.0C757.3 349.5 751.0 351.3 768.0 350.0C785.0 348.7 776.3 348.7 793.0 346.0C809.7 343.3 803.0 344.2 818.0 342.0C833.0 339.8 821.3 340.2 838.0 339.5C854.7 338.8 849.7 339.5 868.0 340.0C886.3 340.5 876.3 340.7 893.0 341.0C909.7 341.3 901.3 341.3 918.0 341.0C934.7 340.7 928.0 339.7 943.0 340.0C958.0 340.3 949.7 340.5 963.0 342.0C976.3 343.5 969.7 344.3 983.0 344.5C996.3 344.7 989.3 344.3 1003.0 342.5C1016.7 340.7 1017.0 340.2 1024.0 339.0L1024.0 406.0C1017.8 406.3 1017.5 405.7 1005.5 407.0C993.5 408.3 1000.5 408.0 988.0 410.0C975.5 412.0 983.0 411.3 968.0 413.0C953.0 414.7 959.7 413.8 943.0 415.0C926.3 416.2 934.7 415.2 918.0 416.5C901.3 417.8 909.7 416.8 893.0 419.0C876.3 421.2 884.7 421.3 868.0 423.0C851.3 424.7 859.7 423.7 843.0 424.0C826.3 424.3 834.7 423.8 818.0 424.0C801.3 424.2 809.7 423.8 793.0 424.5C776.3 425.2 782.5 424.7 768.0 426.0C753.5 427.3 761.5 426.8 749.5 428.5C737.5 430.2 744.5 429.5 732.0 431.0C719.5 432.5 725.3 432.0 712.0 433.0C698.7 434.0 707.0 432.8 692.0 434.0C677.0 435.2 682.0 435.2 667.0 436.5C652.0 437.8 658.7 436.5 647.0 438.0C635.3 439.5 643.7 438.2 632.0 441.0C620.3 443.8 626.2 442.8 612.0 446.5C597.8 450.2 602.8 449.2 589.5 452.0C576.2 454.8 582.8 454.0 572.0 455.0C561.2 456.0 567.8 455.0 557.0 455.0C546.2 455.0 550.3 454.5 539.5 455.0C528.7 455.5 533.7 454.7 524.5 456.5C515.3 458.3 521.5 457.8 512.0 460.5C502.5 463.2 506.3 462.0 496.0 464.5C485.7 467.0 491.8 465.8 481.0 468.0C470.2 470.2 476.0 469.7 463.5 471.0C451.0 472.3 454.7 470.6 443.5 472.0C432.3 473.4 438.0 473.3 430.0 475.3C422.0 477.3 425.2 476.5 419.4 478.1C413.6 479.7 418.2 479.8 412.7 480.1C407.2 480.4 410.0 479.3 402.8 478.9C395.6 478.5 398.9 479.4 391.1 478.9C383.3 478.4 386.7 478.0 379.5 477.3C372.3 476.6 376.2 476.1 369.6 476.9C363.0 477.7 368.5 477.5 359.6 479.8C350.7 482.1 354.1 481.1 343.0 483.9C331.9 486.7 337.5 485.3 326.4 488.1C315.3 490.9 320.9 489.4 309.8 492.2C298.7 495.0 304.3 493.9 293.2 496.4C282.1 498.9 289.0 496.5 276.6 499.7C264.2 502.9 271.5 501.6 256.0 506.0C240.5 510.4 246.2 508.8 230.0 513.0C213.8 517.2 221.7 515.7 207.5 518.5C193.3 521.3 202.5 519.0 187.5 521.5C172.5 524.0 179.2 522.2 162.5 526.0C145.8 529.8 154.2 527.8 137.5 533.0C120.8 538.2 127.5 535.8 112.5 541.5C97.5 547.2 102.5 545.7 92.5 550.0C82.5 554.3 91.7 550.2 82.5 554.5C73.3 558.8 75.8 558.2 65.0 563.0C54.2 567.8 60.8 565.0 50.0 569.0C39.2 573.0 44.2 570.0 32.5 575.0C20.8 580.0 25.8 578.3 15.0 584.0C4.2 589.7 5.0 589.3 0.0 592.0Z" fill="#ff0000"/>
<path d="M266 20 C275 25 290 23.5 300 20Z" fill="#ffb900"/>
<path d="M420.0 712.5C430.3 710.0 433.2 708.3 451.0 705.0C468.8 701.7 460.2 704.2 473.5 702.5C486.8 700.8 482.7 700.5 491.0 700.0C499.3 699.5 491.5 699.5 498.5 701.0C505.5 702.5 504.2 703.5 512.0 704.5C519.8 705.5 515.3 705.5 522.0 704.0C528.7 702.5 524.5 702.7 532.0 700.0C539.5 697.3 534.5 697.8 544.5 696.0C554.5 694.2 552.0 695.5 562.0 694.5C572.0 693.5 567.0 694.5 574.5 693.0C582.0 691.5 577.0 690.7 584.5 690.0C592.0 689.3 587.8 691.2 597.0 691.0C606.2 690.8 602.8 690.5 612.0 689.5C621.2 688.5 617.0 689.2 624.5 688.0C632.0 686.8 627.0 686.5 634.5 686.0C642.0 685.5 637.8 687.2 647.0 686.5C656.2 685.8 652.8 685.7 662.0 684.0C671.2 682.3 666.2 682.3 674.5 681.5C682.8 680.7 679.5 680.5 687.0 681.5C694.5 682.5 688.7 683.8 697.0 684.5C705.3 685.2 702.0 685.0 712.0 683.5C722.0 682.0 717.0 682.3 727.0 680.0C737.0 677.7 732.0 678.8 742.0 676.5C752.0 674.2 748.3 674.8 757.0 673.0C765.7 671.2 759.3 673.2 768.0 671.0C776.7 668.8 772.2 669.2 783.0 666.5C793.8 663.8 788.8 665.2 800.5 663.0C812.2 660.8 806.3 660.7 818.0 660.0C829.7 659.3 824.7 660.0 835.5 661.0C846.3 662.0 839.7 662.3 850.5 663.0C861.3 663.7 858.0 663.3 868.0 663.0C878.0 662.7 872.2 663.3 880.5 662.0C888.8 660.7 883.8 660.7 893.0 659.0C902.2 657.3 898.0 658.0 908.0 657.0C918.0 656.0 913.0 657.0 923.0 656.0C933.0 655.0 928.0 655.5 938.0 654.0C948.0 652.5 943.0 653.5 953.0 651.5C963.0 649.5 958.8 649.3 968.0 648.0C977.2 646.7 972.2 648.2 980.5 647.5C988.8 646.8 983.8 646.3 993.0 646.0C1002.2 645.7 997.7 645.5 1008.0 646.5C1018.3 647.5 1018.7 648.2 1024.0 649.0L1024 713L420 713Z" fill="#ff0000"/>
<path d="M0.0 97.0C3.3 98.0 3.3 99.2 10.0 100.0C16.7 100.8 13.3 100.4 20.0 99.4C26.7 98.4 22.9 98.0 30.0 96.9C37.1 95.8 34.5 96.0 41.2 96.2C47.9 96.4 42.9 96.7 50.0 97.5C57.1 98.3 54.2 98.3 62.5 98.5C70.8 98.7 67.5 99.1 75.0 98.1C82.5 97.1 78.3 97.5 85.0 95.6C91.7 93.7 88.8 94.7 95.0 92.5C101.2 90.3 97.9 90.9 103.7 89.0C109.5 87.1 106.0 88.0 112.5 86.9C119.0 85.8 117.7 86.1 123.2 85.7C128.7 85.3 126.2 84.6 129.0 85.7C131.8 86.8 129.8 85.9 131.5 89.0C133.2 92.1 131.8 91.8 134.0 94.9C136.2 98.0 135.1 97.4 138.1 98.2C141.1 99.0 138.1 99.1 143.1 97.4C148.1 95.7 144.2 95.7 153.1 93.2C162.0 90.7 159.7 92.2 169.7 89.9C179.7 87.6 174.2 88.7 183.0 86.2C191.8 83.7 186.3 84.9 196.2 82.4C206.1 79.9 202.8 80.4 212.8 78.6C222.8 76.8 218.9 76.9 226.1 76.9C233.3 76.9 230.8 76.8 234.4 78.6C238.0 80.4 236.9 78.9 236.9 82.4C236.9 85.9 236.9 84.6 234.4 89.0C231.9 93.4 229.9 92.6 229.4 95.7C228.9 98.8 226.7 97.8 232.8 98.2C238.9 98.6 237.6 98.3 247.7 96.9C257.8 95.5 253.7 96.6 263.0 94.0C272.3 91.4 267.2 92.8 275.5 89.0C283.8 85.2 277.8 86.8 288.0 82.5C298.2 78.2 291.7 79.3 306.0 76.0C320.3 72.7 314.3 74.8 331.0 72.5C347.7 70.2 339.3 71.5 356.0 69.0C372.7 66.5 364.3 67.2 381.0 65.0C397.7 62.8 389.3 64.2 406.0 62.5C422.7 60.8 414.3 62.2 431.0 60.0C447.7 57.8 443.5 59.0 456.0 56.0C468.5 53.0 460.2 54.7 468.5 51.0C476.8 47.3 472.7 48.3 481.0 45.0C489.3 41.7 483.2 43.3 493.5 41.0C503.8 38.7 500.8 38.5 512.0 38.0C523.2 37.5 517.8 39.7 527.0 39.5C536.2 39.3 532.0 39.8 539.5 37.5C547.0 35.2 543.7 36.7 549.5 32.5C555.3 28.3 552.8 29.2 557.0 25.0C561.2 20.8 560.3 21.7 562.0 20.0 M0.0 152.0C8.3 150.5 8.3 150.2 25.0 147.5C41.7 144.8 35.8 145.5 50.0 144.0C64.2 142.5 59.2 142.3 67.5 143.0C75.8 143.7 70.0 142.0 75.0 146.0C80.0 150.0 75.8 150.7 82.5 155.0C89.2 159.3 83.3 157.0 95.0 159.0C106.7 161.0 106.5 160.5 117.5 161.0C128.5 161.5 116.2 160.7 128.0 160.5C139.8 160.3 138.0 161.0 153.0 160.5C168.0 160.0 160.5 160.8 173.0 159.0C185.5 157.2 178.8 155.5 190.5 155.0C202.2 154.5 195.5 156.2 208.0 157.5C220.5 158.8 214.7 159.0 228.0 159.0C241.3 159.0 238.7 158.8 248.0 157.5C257.3 156.2 252.0 156.6 256.0 155.0C260.0 153.4 255.9 154.1 260.0 152.6C264.1 151.1 261.3 151.0 268.2 150.6C275.1 150.2 272.8 151.8 280.6 151.3C288.4 150.8 283.8 151.5 291.6 149.2C299.4 146.9 295.2 146.5 303.9 144.4C312.6 142.3 310.3 144.6 317.6 143.0C324.9 141.4 320.8 142.3 325.8 139.6C330.8 136.9 328.3 138.0 332.7 134.8C337.1 131.6 333.8 133.3 338.9 130.0C344.0 126.7 340.0 126.3 348.0 125.0C356.0 123.7 352.0 126.2 363.0 126.0C374.0 125.8 370.0 126.5 381.0 124.5C392.0 122.5 386.0 124.8 396.0 120.0C406.0 115.2 401.0 115.3 411.0 110.0C421.0 104.7 416.0 106.3 426.0 104.0C436.0 101.7 431.0 103.0 441.0 103.0C451.0 103.0 442.7 104.8 456.0 104.0C469.3 103.2 467.7 102.0 481.0 100.5C494.3 99.0 485.7 99.8 496.0 99.5C506.3 99.2 501.7 99.7 512.0 99.5C522.3 99.3 514.5 100.8 527.0 99.0C539.5 97.2 533.7 98.3 549.5 94.0C565.3 89.7 557.8 91.5 574.5 86.0C591.2 80.5 584.5 82.8 599.5 77.5C614.5 72.2 607.0 74.2 619.5 70.0C632.0 65.8 626.2 67.3 637.0 65.0C647.8 62.7 642.0 63.2 652.0 63.0C662.0 62.8 655.3 63.0 667.0 64.5C678.7 66.0 675.3 66.0 687.0 67.5C698.7 69.0 692.0 69.8 702.0 69.0C712.0 68.2 707.8 65.5 717.0 65.0C726.2 64.5 720.3 65.5 729.5 67.5C738.7 69.5 735.3 70.2 744.5 71.0C753.7 71.8 749.2 71.8 757.0 70.0C764.8 68.2 759.3 67.3 768.0 65.5C776.7 63.7 773.0 63.8 783.0 64.5C793.0 65.2 788.0 65.7 798.0 67.5C808.0 69.3 803.0 71.2 813.0 70.0C823.0 68.8 818.0 67.0 828.0 64.0C838.0 61.0 829.7 61.7 843.0 61.0C856.3 60.3 853.0 62.0 868.0 62.0C883.0 62.0 878.0 64.2 888.0 61.0C898.0 57.8 891.3 58.2 898.0 52.5C904.7 46.8 902.2 47.8 908.0 44.0C913.8 40.2 908.0 40.7 915.5 41.0C923.0 41.3 921.3 41.7 930.5 45.0C939.7 48.3 933.8 48.0 943.0 51.0C952.2 54.0 948.8 54.7 958.0 54.0C967.2 53.3 961.3 51.3 970.5 49.0C979.7 46.7 976.3 49.2 985.5 47.0C994.7 44.8 990.5 44.8 998.0 42.5C1005.5 40.2 999.3 39.5 1008.0 40.0C1016.7 40.5 1018.7 42.7 1024.0 44.0 M0.0 194.0C5.0 193.0 5.0 191.0 15.0 191.0C25.0 191.0 18.3 191.0 30.0 194.0C41.7 197.0 41.0 197.3 50.0 200.0C59.0 202.7 47.0 200.2 57.0 202.0C67.0 203.8 62.3 203.5 80.0 205.5C97.7 207.5 91.7 208.2 110.0 208.0C128.3 207.8 120.7 207.3 135.0 205.0C149.3 202.7 140.3 203.3 153.0 201.0C165.7 198.7 156.3 199.3 173.0 198.0C189.7 196.7 184.7 197.7 203.0 197.0C221.3 196.3 211.3 196.0 228.0 196.0C244.7 196.0 236.8 196.8 253.0 197.0C269.2 197.2 265.0 197.7 276.5 196.5C288.0 195.3 279.2 195.0 287.4 193.4C295.6 191.8 292.0 192.5 301.2 191.7C310.4 190.9 305.8 191.7 314.9 191.0C324.0 190.3 320.4 191.1 328.6 189.7C336.8 188.3 333.2 189.7 339.6 186.9C346.0 184.1 342.8 184.6 347.8 181.4C352.8 178.2 349.7 179.0 354.7 177.3C359.7 175.6 355.6 176.4 362.9 176.4C370.2 176.4 367.5 176.6 376.6 177.3C385.7 178.0 382.5 178.1 390.3 178.4C398.1 178.7 393.8 180.3 400.0 178.3C406.2 176.3 401.8 178.3 409.0 172.5C416.2 166.7 414.0 165.8 421.5 161.0C429.0 156.2 422.3 158.5 431.5 158.0C440.7 157.5 436.5 158.5 449.0 159.5C461.5 160.5 457.3 158.5 469.0 161.0C480.7 163.5 474.0 164.2 484.0 167.0C494.0 169.8 490.7 170.5 499.0 169.5C507.3 168.5 503.2 169.2 509.0 164.0C514.8 158.8 511.5 159.5 516.5 154.0C521.5 148.5 516.5 151.2 524.0 147.5C531.5 143.8 528.0 146.3 539.0 143.0C550.0 139.7 544.3 142.2 557.0 137.5C569.7 132.8 563.7 134.8 577.0 129.0C590.3 123.2 583.7 125.0 597.0 120.0C610.3 115.0 603.7 117.7 617.0 114.0C630.3 110.3 622.0 112.0 637.0 109.0C652.0 106.0 645.3 107.2 662.0 105.0C678.7 102.8 670.3 103.8 687.0 102.5C703.7 101.2 698.7 101.7 712.0 101.0C725.3 100.3 717.0 100.0 727.0 100.5C737.0 101.0 732.0 101.3 742.0 102.5C752.0 103.7 748.3 104.2 757.0 104.0C765.7 103.8 759.3 104.2 768.0 102.0C776.7 99.8 770.5 98.2 783.0 97.5C795.5 96.8 789.7 98.8 805.5 100.0C821.3 101.2 813.8 100.8 830.5 101.0C847.2 101.2 840.5 102.2 855.5 100.5C870.5 98.8 861.3 97.8 875.5 96.0C889.7 94.2 883.8 95.0 898.0 95.0C912.2 95.0 908.0 96.3 918.0 96.0C928.0 95.7 921.3 96.3 928.0 94.0C934.7 91.7 928.0 90.7 938.0 89.0C948.0 87.3 948.0 89.3 958.0 89.0C968.0 88.7 958.0 87.3 968.0 88.0C978.0 88.7 974.7 89.0 988.0 91.0C1001.3 93.0 996.0 93.5 1008.0 94.0C1020.0 94.5 1018.7 93.0 1024.0 92.5 M0.0 261.0C10.8 261.2 15.8 260.5 32.5 261.5C49.2 262.5 40.0 262.8 50.0 264.0C60.0 265.2 51.7 265.8 62.5 265.0C73.3 264.2 65.8 264.3 82.5 261.5C99.2 258.7 93.3 259.3 112.5 256.5C131.7 253.7 124.2 255.3 140.0 253.0C155.8 250.7 148.3 252.3 160.0 249.5C171.7 246.7 165.8 247.3 175.0 244.5C184.2 241.7 175.0 243.2 187.5 241.0C200.0 238.8 195.8 239.3 212.5 238.0C229.2 236.7 223.0 237.7 237.5 237.0C252.0 236.3 239.8 238.0 256.0 236.0C272.2 234.0 269.6 233.6 286.0 231.0C302.4 228.4 293.4 230.7 305.3 228.1C317.2 225.5 311.2 226.5 321.7 223.3C332.2 220.1 327.6 221.9 336.8 218.5C346.0 215.1 340.5 216.2 349.2 213.0C357.9 209.8 353.8 211.0 362.9 208.9C372.0 206.8 367.6 208.1 376.6 206.8C385.6 205.5 381.0 207.1 390.0 205.0C399.0 202.9 394.6 203.7 403.7 200.6C412.8 197.5 409.2 198.6 417.4 195.8C425.6 193.0 422.9 193.6 428.4 192.1C433.9 190.6 429.8 190.7 433.9 191.2C438.0 191.7 435.8 191.9 440.8 193.7C445.8 195.5 443.1 195.1 449.0 196.7C454.9 198.3 451.7 197.6 458.6 198.5C465.5 199.4 463.2 199.0 469.6 199.5C476.0 200.0 472.3 199.9 477.8 199.9C483.3 199.9 479.6 200.5 486.0 199.6C492.4 198.7 489.7 198.8 497.0 197.1C504.3 195.4 500.2 196.2 508.0 194.4C515.8 192.6 513.0 193.2 520.3 191.7C527.6 190.2 521.3 191.5 530.0 189.9C538.7 188.3 536.8 190.3 546.5 187.0C556.2 183.7 552.3 186.0 559.0 180.0C565.7 174.0 561.5 174.0 566.5 169.0C571.5 164.0 565.7 166.5 574.0 165.0C582.3 163.5 579.8 164.5 591.5 164.5C603.2 164.5 598.2 165.5 609.0 165.0C619.8 164.5 613.7 164.3 624.0 163.0C634.3 161.7 627.3 163.0 640.0 161.0C652.7 159.0 646.3 159.3 662.0 157.0C677.7 154.7 670.3 156.3 687.0 154.0C703.7 151.7 695.3 152.7 712.0 150.0C728.7 147.3 722.0 148.5 737.0 146.0C752.0 143.5 746.7 144.2 757.0 142.5C767.3 140.8 756.0 141.5 768.0 141.0C780.0 140.5 772.2 141.2 793.0 141.0C813.8 140.8 807.2 139.5 830.5 140.5C853.8 141.5 842.2 143.3 863.0 144.0C883.8 144.7 874.7 143.8 893.0 142.5C911.3 141.2 899.7 141.7 918.0 140.0C936.3 138.3 931.3 139.5 948.0 137.5C964.7 135.5 958.0 137.3 968.0 134.0C978.0 130.7 971.3 130.5 978.0 127.5C984.7 124.5 978.0 125.5 988.0 125.0C998.0 124.5 996.0 125.2 1008.0 126.0C1020.0 126.8 1018.7 127.0 1024.0 127.5 M0.0 353.0C5.0 352.5 4.2 353.5 15.0 351.5C25.8 349.5 20.8 350.0 32.5 347.0C44.2 344.0 38.3 345.5 50.0 342.5C61.7 339.5 56.7 341.8 67.5 338.0C78.3 334.2 73.3 335.0 82.5 331.0C91.7 327.0 85.0 328.7 95.0 326.0C105.0 323.3 98.3 325.0 112.5 323.0C126.7 321.0 120.8 322.0 137.5 320.0C154.2 318.0 145.8 319.3 162.5 317.0C179.2 314.7 172.5 315.5 187.5 313.0C202.5 310.5 195.0 312.2 207.5 309.5C220.0 306.8 214.2 307.7 225.0 305.0C235.8 302.3 229.7 304.0 240.0 301.5C250.3 299.0 245.7 300.3 256.0 297.5C266.3 294.7 260.2 295.7 271.0 293.0C281.8 290.3 276.8 290.8 288.5 289.5C300.2 288.2 292.7 288.8 306.0 289.0C319.3 289.2 311.8 290.0 328.5 290.0C345.2 290.0 338.8 289.9 356.0 289.0C373.2 288.1 363.3 287.8 380.0 287.2C396.7 286.6 392.3 287.8 406.0 287.2C419.7 286.6 411.6 285.9 421.2 285.3C430.8 284.7 427.6 285.7 434.9 285.3C442.2 284.9 438.2 286.1 443.1 284.2C448.0 282.3 445.7 283.2 449.5 279.5C453.3 275.8 451.0 277.6 454.5 273.0C458.0 268.4 455.9 268.9 460.0 265.7C464.1 262.5 461.8 263.8 466.8 263.4C471.8 263.0 469.0 263.8 475.0 264.4C481.0 265.0 479.7 265.8 484.7 265.3C489.7 264.8 486.0 265.4 490.1 263.0C494.2 260.6 492.0 260.8 497.0 258.2C502.0 255.6 499.7 255.8 505.2 255.2C510.7 254.6 508.0 255.0 513.5 256.5C519.0 258.0 514.9 257.9 521.7 259.6C528.5 261.3 524.9 261.5 534.0 261.5C543.1 261.5 539.0 261.7 549.0 259.5C559.0 257.3 552.3 258.8 564.0 255.0C575.7 251.2 571.5 252.2 584.0 248.0C596.5 243.8 591.5 247.2 601.5 242.5C611.5 237.8 606.5 238.8 614.0 234.0C621.5 229.2 617.3 230.7 624.0 228.0C630.7 225.3 626.3 226.3 634.0 226.0C641.7 225.7 636.0 225.8 647.0 227.0C658.0 228.2 653.7 228.5 667.0 229.5C680.3 230.5 674.5 230.5 687.0 230.0C699.5 229.5 692.0 230.3 704.5 228.0C717.0 225.7 710.3 226.3 724.5 223.0C738.7 219.7 732.5 221.0 747.0 218.0C761.5 215.0 752.7 217.0 768.0 214.0C783.3 211.0 776.3 212.0 793.0 209.0C809.7 206.0 801.3 206.5 818.0 205.0C834.7 203.5 826.3 204.2 843.0 204.5C859.7 204.8 851.3 206.0 868.0 206.0C884.7 206.0 876.3 204.2 893.0 204.5C909.7 204.8 901.3 205.3 918.0 207.0C934.7 208.7 926.3 208.0 943.0 209.5C959.7 211.0 951.3 210.8 968.0 211.5C984.7 212.2 974.3 211.3 993.0 211.5C1011.7 211.7 1013.7 211.8 1024.0 212.0 M0.0 411.4C11.1 408.9 11.1 408.9 33.2 403.9C55.3 398.9 44.3 400.8 66.4 396.4C88.5 392.0 77.5 394.7 99.6 390.6C121.7 386.5 116.0 387.5 132.8 384.0C149.6 380.5 137.6 383.0 150.0 380.2C162.4 377.4 158.9 378.0 170.0 375.7C181.1 373.4 167.7 376.0 183.2 373.2C198.7 370.4 196.5 370.5 216.4 367.4C236.3 364.3 226.4 365.9 243.0 364.0C259.6 362.1 250.2 363.2 266.2 361.6C282.2 360.0 273.2 360.8 291.1 359.1C309.0 357.4 306.0 358.0 320.0 356.6C334.0 355.2 317.7 357.1 333.2 354.9C348.7 352.7 352.0 352.1 366.4 349.9C380.8 347.7 365.3 348.8 376.4 348.3C387.5 347.8 387.0 348.6 399.6 348.3C412.2 348.0 407.1 346.5 414.3 347.3C421.5 348.1 416.6 348.4 421.2 350.7C425.8 353.0 423.4 353.1 428.0 354.2C432.6 355.3 430.8 355.1 434.9 353.9C439.0 352.7 435.8 354.7 440.4 350.7C445.0 346.7 443.1 346.6 448.6 341.8C454.1 337.0 451.3 338.8 456.8 336.3C462.3 333.8 458.6 334.5 465.0 334.3C471.4 334.1 468.2 334.2 476.0 335.6C483.8 337.0 481.5 338.4 488.4 338.4C495.3 338.4 490.7 339.5 496.6 335.6C502.5 331.7 500.7 331.8 506.2 326.7C511.7 321.6 507.8 322.4 513.1 320.2C518.4 318.0 514.0 318.6 522.0 320.0C530.0 321.4 526.2 322.5 537.0 324.5C547.8 326.5 542.8 326.0 554.5 326.0C566.2 326.0 561.2 327.5 572.0 324.5C582.8 321.5 576.2 321.2 587.0 317.0C597.8 312.8 592.8 314.7 604.5 312.0C616.2 309.3 609.5 310.7 622.0 309.0C634.5 307.3 629.5 308.3 642.0 307.0C654.5 305.7 649.5 307.0 659.5 305.0C669.5 303.0 663.7 303.8 672.0 301.0C680.3 298.2 674.5 298.2 684.5 296.5C694.5 294.8 690.3 296.0 702.0 296.0C713.7 296.0 706.2 297.5 719.5 296.5C732.8 295.5 725.8 295.5 742.0 293.0C758.2 290.5 751.0 292.0 768.0 289.0C785.0 286.0 776.3 287.2 793.0 284.0C809.7 280.8 801.3 282.0 818.0 279.5C834.7 277.0 826.3 277.7 843.0 276.5C859.7 275.3 851.3 277.2 868.0 276.0C884.7 274.8 879.7 274.3 893.0 273.0C906.3 271.7 896.3 271.7 908.0 272.0C919.7 272.3 913.0 273.0 928.0 274.0C943.0 275.0 936.3 274.3 953.0 275.0C969.7 275.7 961.3 276.0 978.0 276.0C994.7 276.0 987.7 276.0 1003.0 275.0C1018.3 274.0 1017.0 273.7 1024.0 273.0 M0.0 477.5C3.3 476.0 1.7 476.2 10.0 473.0C18.3 469.8 11.7 472.3 25.0 468.0C38.3 463.7 36.2 464.0 50.0 460.0C63.8 456.0 49.9 459.8 66.4 456.0C82.9 452.2 77.5 453.1 99.6 448.7C121.7 444.3 116.0 445.9 132.8 442.9C149.6 439.9 137.1 442.5 150.0 439.6C162.9 436.7 157.8 436.6 171.6 434.3C185.4 432.0 176.6 432.9 191.5 432.6C206.4 432.3 202.6 434.6 216.4 433.3C230.2 432.0 219.2 432.5 233.0 428.8C246.8 425.1 242.4 425.9 257.9 422.2C273.4 418.5 265.7 419.4 279.5 417.7C293.3 416.0 285.9 419.1 299.4 417.2C312.9 415.3 307.6 415.1 320.0 412.0C332.4 408.9 325.5 409.0 336.5 408.0C347.5 407.0 341.5 408.1 353.1 408.9C364.7 409.7 361.4 411.1 371.4 410.5C381.4 409.9 375.3 410.5 383.0 407.2C390.7 403.9 387.7 403.6 394.6 400.6C401.5 397.6 396.5 397.6 403.7 398.1C410.9 398.6 407.1 399.6 416.2 402.2C425.3 404.8 423.9 405.1 431.1 406.0C438.3 406.9 431.7 407.6 437.8 405.0C443.9 402.4 442.2 402.2 449.4 398.1C456.6 394.0 452.5 395.5 459.4 392.8C466.3 390.1 461.1 391.4 470.0 390.1C478.9 388.8 476.5 389.7 486.0 389.0C495.5 388.3 489.8 387.8 498.5 388.0C507.2 388.2 503.3 388.3 512.0 389.5C520.7 390.7 516.2 391.7 524.5 391.5C532.8 391.3 529.2 391.5 537.0 389.0C544.8 386.5 539.7 387.0 548.0 384.0C556.3 381.0 550.7 382.0 562.0 380.0C573.3 378.0 567.8 378.7 582.0 378.0C596.2 377.3 591.2 380.0 604.5 378.0C617.8 376.0 607.8 376.0 622.0 372.0C636.2 368.0 630.3 370.3 647.0 366.0C663.7 361.7 655.3 362.7 672.0 359.0C688.7 355.3 680.3 357.5 697.0 355.0C713.7 352.5 707.0 353.2 722.0 351.5C737.0 349.8 726.7 350.5 742.0 350.0C757.3 349.5 751.0 351.3 768.0 350.0C785.0 348.7 776.3 348.7 793.0 346.0C809.7 343.3 803.0 344.2 818.0 342.0C833.0 339.8 821.3 340.2 838.0 339.5C854.7 338.8 849.7 339.5 868.0 340.0C886.3 340.5 876.3 340.7 893.0 341.0C909.7 341.3 901.3 341.3 918.0 341.0C934.7 340.7 928.0 339.7 943.0 340.0C958.0 340.3 949.7 340.5 963.0 342.0C976.3 343.5 969.7 344.3 983.0 344.5C996.3 344.7 989.3 344.3 1003.0 342.5C1016.7 340.7 1017.0 340.2 1024.0 339.0 M0.0 592.0C5.0 589.3 4.2 589.7 15.0 584.0C25.8 578.3 20.8 580.0 32.5 575.0C44.2 570.0 39.2 573.0 50.0 569.0C60.8 565.0 54.2 567.8 65.0 563.0C75.8 558.2 73.3 558.8 82.5 554.5C91.7 550.2 82.5 554.3 92.5 550.0C102.5 545.7 97.5 547.2 112.5 541.5C127.5 535.8 120.8 538.2 137.5 533.0C154.2 527.8 145.8 529.8 162.5 526.0C179.2 522.2 172.5 524.0 187.5 521.5C202.5 519.0 193.3 521.3 207.5 518.5C221.7 515.7 213.8 517.2 230.0 513.0C246.2 508.8 240.5 510.4 256.0 506.0C271.5 501.6 264.2 502.9 276.6 499.7C289.0 496.5 282.1 498.9 293.2 496.4C304.3 493.9 298.7 495.0 309.8 492.2C320.9 489.4 315.3 490.9 326.4 488.1C337.5 485.3 331.9 486.7 343.0 483.9C354.1 481.1 350.7 482.1 359.6 479.8C368.5 477.5 363.0 477.7 369.6 476.9C376.2 476.1 372.3 476.6 379.5 477.3C386.7 478.0 383.3 478.4 391.1 478.9C398.9 479.4 395.6 478.5 402.8 478.9C410.0 479.3 407.2 480.4 412.7 480.1C418.2 479.8 413.6 479.7 419.4 478.1C425.2 476.5 422.0 477.3 430.0 475.3C438.0 473.3 432.3 473.4 443.5 472.0C454.7 470.6 451.0 472.3 463.5 471.0C476.0 469.7 470.2 470.2 481.0 468.0C491.8 465.8 485.7 467.0 496.0 464.5C506.3 462.0 502.5 463.2 512.0 460.5C521.5 457.8 515.3 458.3 524.5 456.5C533.7 454.7 528.7 455.5 539.5 455.0C550.3 454.5 546.2 455.0 557.0 455.0C567.8 455.0 561.2 456.0 572.0 455.0C582.8 454.0 576.2 454.8 589.5 452.0C602.8 449.2 597.8 450.2 612.0 446.5C626.2 442.8 620.3 443.8 632.0 441.0C643.7 438.2 635.3 439.5 647.0 438.0C658.7 436.5 652.0 437.8 667.0 436.5C682.0 435.2 677.0 435.2 692.0 434.0C707.0 432.8 698.7 434.0 712.0 433.0C725.3 432.0 719.5 432.5 732.0 431.0C744.5 429.5 737.5 430.2 749.5 428.5C761.5 426.8 753.5 427.3 768.0 426.0C782.5 424.7 776.3 425.2 793.0 424.5C809.7 423.8 801.3 424.2 818.0 424.0C834.7 423.8 826.3 424.3 843.0 424.0C859.7 423.7 851.3 424.7 868.0 423.0C884.7 421.3 876.3 421.2 893.0 419.0C909.7 416.8 901.3 417.8 918.0 416.5C934.7 415.2 926.3 416.2 943.0 415.0C959.7 413.8 953.0 414.7 968.0 413.0C983.0 411.3 975.5 412.0 988.0 410.0C1000.5 408.0 993.5 408.3 1005.5 407.0C1017.5 405.7 1017.8 406.3 1024.0 406.0 M420.0 712.5C430.3 710.0 433.2 708.3 451.0 705.0C468.8 701.7 460.2 704.2 473.5 702.5C486.8 700.8 482.7 700.5 491.0 700.0C499.3 699.5 491.5 699.5 498.5 701.0C505.5 702.5 504.2 703.5 512.0 704.5C519.8 705.5 515.3 705.5 522.0 704.0C528.7 702.5 524.5 702.7 532.0 700.0C539.5 697.3 534.5 697.8 544.5 696.0C554.5 694.2 552.0 695.5 562.0 694.5C572.0 693.5 567.0 694.5 574.5 693.0C582.0 691.5 577.0 690.7 584.5 690.0C592.0 689.3 587.8 691.2 597.0 691.0C606.2 690.8 602.8 690.5 612.0 689.5C621.2 688.5 617.0 689.2 624.5 688.0C632.0 686.8 627.0 686.5 634.5 686.0C642.0 685.5 637.8 687.2 647.0 686.5C656.2 685.8 652.8 685.7 662.0 684.0C671.2 682.3 666.2 682.3 674.5 681.5C682.8 680.7 679.5 680.5 687.0 681.5C694.5 682.5 688.7 683.8 697.0 684.5C705.3 685.2 702.0 685.0 712.0 683.5C722.0 682.0 717.0 682.3 727.0 680.0C737.0 677.7 732.0 678.8 742.0 676.5C752.0 674.2 748.3 674.8 757.0 673.0C765.7 671.2 759.3 673.2 768.0 671.0C776.7 668.8 772.2 669.2 783.0 666.5C793.8 663.8 788.8 665.2 800.5 663.0C812.2 660.8 806.3 660.7 818.0 660.0C829.7 659.3 824.7 660.0 835.5 661.0C846.3 662.0 839.7 662.3 850.5 663.0C861.3 663.7 858.0 663.3 868.0 663.0C878.0 662.7 872.2 663.3 880.5 662.0C888.8 660.7 883.8 660.7 893.0 659.0C902.2 657.3 898.0 658.0 908.0 657.0C918.0 656.0 913.0 657.0 923.0 656.0C933.0 655.0 928.0 655.5 938.0 654.0C948.0 652.5 943.0 653.5 953.0 651.5C963.0 649.5 958.8 649.3 968.0 648.0C977.2 646.7 972.2 648.2 980.5 647.5C988.8 646.8 983.8 646.3 993.0 646.0C1002.2 645.7 997.7 645.5 1008.0 646.5C1018.3 647.5 1018.7 648.2 1024.0 649.0 M266 20 C275 25 290 23.5 300 20" fill="none" stroke="#2828dc" stroke-width="1.1" stroke-opacity="0.7"/>
<path d="M0 366.3H1024" stroke="#ff8060" stroke-width="0.6" stroke-opacity="0.35" fill="none"/>
<path d="M13.7 25.6L23.7 23.0L27.0 20.0 M21.0 50.0L23.7 45.6L28.7 43.7L40.0 47.5L50.0 48.0L58.7 47.7L62.5 43.7L67.5 42.7L75.0 46.2L80.0 46.9L86.2 53.0L90.0 55.6L95.0 60.6L100.0 63.0L105.0 66.2L106.9 70.6L110.0 74.4L116.2 76.2L120.0 72.5L123.0 65.0L125.6 60.0L130.0 50.0L132.5 42.5L140.0 35.0L155.0 31.2L163.7 30.0L165.0 21.0 M80.0 46.9L83.0 41.2L89.4 40.6L93.7 36.2L96.9 33.0L92.5 30.6L92.5 21.0 M163.7 30.0L175.0 32.5L187.5 37.5L197.5 47.5L205.0 52.5L217.5 51.2L222.5 45.0L223.7 35.0 M137.5 73.7L143.7 67.5L155.0 60.0L170.0 57.5L187.5 58.7L197.5 55.0L205.0 52.5 M222.5 51.2L240.0 55.0L252.5 60.0L265.0 68.7L272.5 76.2L278.7 82.5L281.2 92.5L288.7 100.0L288.7 110.0L286.2 118.7 M122.5 73.7L137.5 73.7L136.2 81.2L132.5 87.5L127.5 95.0L120.0 102.5L116.2 106.2 M288.7 100.0L300.0 101.2L312.5 97.5L317.5 93.7L313.7 87.5L315.0 80.0L323.7 73.7L340.0 71.2L352.5 68.7L365.0 63.7L375.0 58.7L385.0 53.7L398.7 51.2L402.5 45.0L400.0 37.5L412.5 35.0L420.0 30.0L421.2 21.0 M278.7 82.5L292.5 78.7L286.2 72.5L292.5 61.2L305.0 50.0L320.0 46.2L335.0 43.7L340.0 38.7L347.5 40.0L351.2 48.7L360.0 57.5L365.0 63.7 M367.5 21.0L376.2 28.7L381.2 37.5L378.7 46.2L385.0 53.7 M420.0 30.0L432.5 31.2L441.2 32.5L442.5 21.0 M398.7 51.2L405.0 61.2L412.5 71.2L412.5 83.7 M477.5 21.0L478.7 31.2L473.7 37.5L465.0 40.0L460.0 47.5L457.5 56.2L465.0 63.7L465.0 70.0L457.5 75.0 M465.0 70.0L477.5 72.5L487.5 73.7L496.0 78.7L506.0 71.2L518.5 77.5L536.0 86.2 M473.7 45.0L485.0 52.5L496.0 57.5L506.0 55.0L513.5 58.7L526.0 53.7L543.5 51.2 M330.0 23.7L350.0 22.5 M533.5 38.7L541.0 30.0L546.0 21.0 M533.5 38.7L543.5 45.0L558.5 45.0L562.2 50.0L576.0 48.7 M562.2 50.0L556.0 57.5L557.2 67.5L563.5 76.2 M616.0 25.0L636.0 21.2 M643.5 26.2L656.0 31.2L661.0 42.5L666.0 52.5L668.5 61.2L674.7 71.2 M666.0 52.5L676.0 42.5L691.0 36.2L706.0 33.7L721.0 33.7L731.0 41.2L738.5 45.0L752.0 40.0L762.6 38.6L775.9 38.6L783.9 35.4L799.8 37.3L817.1 38.6L819.7 32.0L837.0 33.3L858.2 33.3L868.9 30.6L876.8 24.0 M721.0 33.7L718.5 26.2L723.5 21.0 M738.5 21.0L746.0 27.5L752.0 30.0 M819.7 32.0L819.7 21.0 M837.0 33.3L839.6 43.9L837.0 54.5 M589.7 80.0L596.0 90.0L596.0 97.5L591.0 105.0L578.5 108.7 M637.2 90.0L648.5 95.0L656.0 101.2L652.2 112.5L649.7 124.2L644.5 138.8L633.9 150.8L625.9 161.4 M656.0 101.2L668.4 112.3L684.4 124.2L697.6 136.2L708.3 144.1 M496.0 106.2L502.2 110.0L499.8 117.6L509.1 126.9L515.7 134.8L518.4 144.1L525.0 146.8 M470.5 133.5L479.8 137.5L481.2 148.1L487.8 152.1L501.1 154.0L511.7 154.8L517.0 152.1L525.0 146.8L538.3 148.1L551.6 152.1L567.5 152.9L578.1 152.1 M470.5 133.5L471.9 145.5L471.9 156.1L473.2 164.0L474.5 174.7L475.9 181.3L469.2 188.0L466.6 191.9 M457.3 163.5L471.9 161.4 M466.6 174.7L474.5 174.7 M475.9 181.3L485.2 177.9L503.7 176.0L509.1 180.0L519.7 178.7L530.3 174.7L540.9 169.9L548.9 168.8L556.9 174.7L560.8 178.7 M566.2 132.2L564.8 141.5L572.8 148.1L578.1 152.1L578.1 161.4L572.8 170.7L564.8 174.7 M578.1 154.0L591.4 155.6L610.0 158.7L625.9 161.4L636.5 172.0L641.9 184.0L653.3 196.5L662.4 207.2L674.6 220.9 M596.7 96.3L591.4 103.0L578.1 108.3 M491.8 214.8L505.5 214.8L516.2 225.5L528.4 231.6L543.6 248.3L558.8 255.9L577.1 268.1 M472.0 247.0L472.0 251.0 M477.0 247.0L477.0 251.0 M449.1 259.0L455.2 268.1L458.3 277.3L452.2 286.4 M458.3 266.6L470.5 265.7L485.7 264.5L500.9 265.7L516.2 274.2L528.4 284.9L536.0 292.5 M485.7 264.5L487.2 274.2L479.6 281.8L479.6 292.5L485.7 301.6L487.2 309.3 M786.5 66.5L791.8 75.8L802.5 83.7L813.1 86.4L829.0 82.4L837.0 75.8L847.6 79.8L852.9 81.1L854.3 69.1L866.2 67.8L872.9 62.5 M852.9 69.1L868.9 71.8L876.8 75.8L884.8 83.7L882.1 90.4L871.5 91.7L863.6 97.0L858.2 105.0L850.3 111.6L842.3 120.9L836.9 130.2L832.4 140.9 M899.4 105.0L904.7 99.7L922.0 97.0 M899.4 105.0L903.4 113.0L911.4 122.3L904.0 128.7 M945.9 63.8L959.2 65.2L972.5 69.1L985.7 77.1L996.4 70.5L1007.0 69.1L1015.0 77.1L1017.6 83.7L1024.0 86.4 M951.2 122.3L961.8 110.3L972.5 101.0L991.0 99.7L1012.3 99.7L1024.0 105.0 M712.0 145.5L731.8 145.5 M727.2 166.2L745.5 169.8L766.8 175.9L788.2 175.9L794.3 171.4L820.2 169.2L818.6 160.7L814.1 151.6L818.6 145.5L832.4 140.9 M794.3 171.4L792.7 185.1L798.8 195.7L809.5 203.4L817.1 201.8L817.1 206.4 M832.4 140.9L833.9 153.1L846.1 151.6L858.3 145.5L861.3 136.3L870.4 132.7L888.7 130.2L904.0 128.7L919.2 127.8L913.1 121.1L904.0 116.5 M833.9 153.1L841.5 166.8L858.3 175.9L876.5 183.6L885.7 189.7L891.8 180.5L897.9 169.8L907.0 160.7L911.6 148.5L910.0 139.4L904.0 130.2 M897.9 169.8L913.1 172.9L920.7 180.5L929.9 185.1L932.9 195.7L943.6 191.2L952.7 179.0L958.8 169.8L964.9 172.9 M920.7 180.5L910.0 189.7L899.4 197.3L894.8 204.9L895.5 212.0L888.0 217.0L885.5 225.7L891.7 229.5L890.5 242.0L890.5 252.0 M980.1 160.7L992.3 168.3L1001.5 177.5L1007.5 186.6L1016.7 188.1L1024.0 183.6 M963.4 227.7L971.0 224.1L986.2 226.2L1001.5 232.3L1016.7 235.4L1024.0 233.2 M1022.8 154.6L1022.8 163.7 M808.0 203.2L816.7 204.5L817.0 208.0 M825.5 223.2L833.0 229.5L843.0 235.7L855.5 241.5L870.5 242.0L875.5 249.5L883.0 255.7L893.0 254.5L898.0 255.7L898.0 264.5L888.0 267.5L880.5 269.0L873.0 268.2L861.7 267.0 M883.0 255.7L881.7 264.5 M898.0 273.2L910.5 268.2L928.0 269.0L948.0 272.0L958.0 262.0L968.0 254.5L973.0 250.7 M961.7 227.0L960.5 237.0L962.0 243.0 M1015.5 247.0L1020.5 252.0 M873.0 268.2L870.5 277.0L878.0 282.0L881.7 288.2L883.0 302.0L888.0 312.0L890.5 319.5 M898.0 273.2L898.0 282.0L908.0 287.0L918.0 290.7L923.0 299.5L930.5 307.0L940.5 309.5L945.5 317.0L955.5 324.5L960.5 334.5L961.7 342.0L963.0 352.0L960.5 364.5L959.2 384.0L957.0 384.0 M930.5 307.0L918.0 312.0L910.5 318.2L903.0 319.5L895.5 317.0L890.5 319.5L898.0 322.0L895.5 329.5L898.0 342.0L896.7 352.0L906.7 358.2L918.0 364.5L923.0 354.5L926.7 344.5L943.0 342.5L960.5 344.5 M906.7 358.2L904.2 372.0L900.5 384.0L902.0 366.5L882.0 399.0L862.0 434.0L852.0 444.0 M830.5 297.0L835.5 304.5L845.5 313.2L855.5 319.5L873.0 313.2L885.5 311.5 M855.5 319.5L859.2 324.5L843.0 333.2L835.5 340.7L830.5 352.0L824.2 364.5L818.0 382.0L812.0 394.0 M845.5 284.5L855.5 285.7L870.5 285.7 M963.0 330.7L975.5 328.2L990.5 327.0L1000.5 326.5 M1000.5 288.2L996.7 299.5L995.5 312.0L1001.7 324.5L1000.5 332.0L990.5 338.2L995.5 347.0L1003.0 357.0L1010.5 367.0L1018.0 374.5 M1015.5 382.0L1024.0 380.0 M957.0 386.5L966.3 388.4L978.9 390.0L985.3 390.6L990.3 392.5L994.4 396.6L997.2 401.4L999.5 404.5L1004.5 414.0L1009.5 429.0L1007.0 454.0L999.5 476.5 M999.5 404.5L1005.5 403.6L1011.8 401.7L1017.5 400.4L1024.0 400.0 M1009.6 362.5L1010.5 368.2L1014.9 371.7L1021.2 372.0 M560.7 344.5L557.0 357.0L558.2 367.0L567.0 377.0L570.7 382.0L594.5 380.7L617.0 380.0L642.0 382.0L662.0 389.0L712.0 394.0L737.0 399.0L757.0 424.0 M174.9 359.1L179.9 364.0L184.9 370.7L190.7 376.5L194.0 383.1L194.8 391.4L194.8 398.1L197.3 406.4L198.1 412.2 M194.8 379.8L203.1 378.2L208.1 374.0L216.4 372.8L218.1 378.2L216.4 388.1L218.1 394.8L218.1 401.4 M218.1 354.9L218.9 363.2L216.4 372.8 M231.3 359.1L236.3 364.0L237.1 370.7 M198.1 393.9L206.4 395.6L213.1 398.9L218.1 401.4L223.0 400.6L223.9 396.4L223.0 390.6L229.7 389.4L236.3 388.1L241.3 380.6L246.3 375.7L252.9 374.8 M218.1 401.4L214.7 406.4L209.8 412.2L208.9 416.3L204.8 417.2L198.1 412.2L191.5 417.2L183.2 422.2L174.9 428.8L166.6 434.6L158.3 442.9L150.0 446.5L130.0 456.5L112.5 471.5L95.0 486.5L77.5 494.0L42.5 503.5L32.5 519.0L17.5 546.5 M218.1 401.4L221.4 410.5L227.2 417.2L233.0 420.5L239.6 417.2L246.3 413.0L247.1 406.4L243.8 401.4L252.9 401.4L259.6 398.1L262.9 391.4L262.9 384.8L266.2 379.8 M208.9 416.3L211.4 421.3L216.4 423.8L225.5 421.3L233.0 420.5 M216.4 423.8L217.2 431.3L219.7 442.1L236.3 442.1L251.3 441.2 M249.6 418.0L252.1 428.0L252.1 441.2L250.0 459.0L250.0 481.5L240.0 480.2L225.0 474.0L217.5 466.5 M249.6 418.0L266.2 418.0L277.8 418.8 M150.0 424.6L158.3 429.6L166.6 434.6 M150.0 391.4L153.3 393.9L152.5 398.1 M287.0 379.0L287.8 389.8L288.6 401.4L294.4 413.0L297.7 419.7L297.7 431.3L294.4 437.9L291.1 440.4 M297.7 434.3L316.6 434.9L333.2 436.6L349.8 440.4L366.4 447.0L383.0 453.7L401.0 456.5 M132.8 380.7L133.6 391.4L133.6 404.7L134.5 413.0L137.8 417.2L146.1 422.2L156.0 427.1L170.0 435.2 M156.0 367.4L151.1 372.4L146.1 375.7L147.7 383.1L152.7 389.8L152.7 396.4L146.1 401.4L137.8 405.6L134.5 410.5 M195.0 385.2L195.0 396.5L197.5 409.0L207.5 419.0 M217.5 432.7L220.0 442.7 M0.0 549.5L187.5 549.5 M145.0 477.7L160.0 466.5L180.0 451.5L197.5 444.0L205.0 445.2L208.7 456.5L207.5 464.0L195.0 475.2L172.5 482.0L150.0 478.5L145.0 477.7L142.5 489.0L137.5 501.5L127.5 519.0L110.0 529.0L92.5 536.5L87.5 544.0L86.2 549.0 M145.0 493.2L202.5 493.2 M208.7 459.0L217.5 464.0L217.5 474.0L210.0 484.0L202.5 494.0L200.0 509.0L195.0 520.2L197.5 529.0L201.2 544.0L201.2 556.5L202.5 560.7L212.5 565.7L225.0 575.7L232.5 587.0L240.0 593.2L250.0 604.5L256.0 614.5L263.5 619.5L268.5 627.0L278.5 624.5L288.5 620.7L298.5 624.5L303.5 634.5L301.0 647.0L293.5 654.5L288.5 662.0L289.7 672.0L298.5 677.0L306.0 684.5L309.7 697.0L313.5 711.0 M187.5 549.5L190.0 558.2L197.5 568.2L210.0 575.7L215.0 584.5L222.5 594.5L235.0 607.0L247.5 620.7L256.0 632.0L268.5 635.7L281.0 632.0L291.0 629.5L294.7 634.5L291.0 644.5L281.0 653.2L279.7 664.5L286.0 674.5L296.0 682.0L302.2 697.0L303.5 711.0 M222.5 593.2L227.5 587.0L233.7 592.0 M288.5 386.5L289.7 401.5L297.2 416.5L298.5 434.0 M256.0 484.0L271.0 480.2L287.2 475.2 M256.0 417.7L271.0 416.5L283.5 419.0 M262.2 386.5L261.0 396.5L256.0 400.2 M400.0 484.0L435.0 483.0L465.0 486.5L480.0 501.5L512.0 500.0L532.0 501.5L549.5 489.0L552.0 509.0L572.0 520.0L599.5 525.0L617.0 521.5L642.0 509.0L672.0 496.5L694.5 490.0L702.0 484.0L702.0 464.0L722.0 449.0L752.0 431.5L767.0 424.0 M694.5 490.0L712.0 492.0L732.0 489.0L772.0 491.5L797.0 504.0L822.0 511.5L857.0 511.5L872.0 539.0L902.0 549.0L917.0 559.0L937.0 574.0L972.0 591.5L1007.0 603.0L1024.0 606.0 M616.0 523.0L634.0 530.0L649.0 539.0L656.0 548.0L660.0 560.0L665.0 570.0L672.0 578.0L657.0 596.5L654.5 614.0L662.0 634.0L662.0 664.0L672.0 670.0L697.0 664.0L707.0 656.5L737.0 656.5L749.5 659.0L749.5 671.5L757.0 684.0L767.0 699.0L777.0 696.5L797.0 700.0L810.5 702.0L824.0 701.0L825.5 692.0L830.5 682.0L840.5 676.0L853.0 673.0L863.0 667.0L868.0 658.0L875.5 656.0L908.0 657.0 M512.0 569.0L527.0 564.0L552.0 566.5L562.0 579.0L582.0 594.0L602.0 589.0L627.0 599.0L657.0 596.5 M737.0 656.5L762.0 649.0L764.5 636.5L777.0 621.5L812.0 599.0L832.0 579.0L862.0 566.5L882.0 579.0L902.0 579.0L912.0 584.0L892.0 599.0L889.5 614.0L902.0 634.0L907.0 651.5L908.0 657.0 M917.0 556.5L927.0 534.0L942.0 509.0L962.0 486.5L992.0 478.0 M512.0 599.0L522.0 609.0L519.5 624.0L537.0 636.5L552.0 649.0L562.0 661.5L562.0 689.0L542.0 696.5L522.0 704.0 M768.0 637.0L774.0 637.0L775.5 624.5L784.0 622.0 M773.0 711.0L780.5 698.0L793.0 701.0L810.5 702.0 M501.0 572.0L508.5 570.7L512.0 579.5L511.0 594.5 M822.0 366.5L812.0 394.0 M417.0 288.3L413.6 292.4L412.2 297.9L415.7 301.4L419.8 300.0L425.3 302.0L430.0 304.1L433.5 307.5L437.0 309.0 M410.9 308.9L409.5 313.7L407.4 317.8L408.1 324.0L408.8 329.5L409.5 333.6L408.8 337.0L404.7 337.0L402.6 340.4L404.0 344.6L412.2 343.9L417.0 341.1L419.8 338.4L414.3 337.0 M402.6 319.9L401.9 325.4L399.2 328.1L397.0 333.0 M393.7 336.3L397.8 339.2L402.1 340.8L403.7 345.8L407.1 348.3 M451.3 267.0L452.7 271.2L458.9 273.9L460.2 278.7L456.1 280.1L453.4 282.8L451.3 286.9 M404.7 354.8L403.3 359.7L408.8 361.0L415.0 360.3L420.5 359.7L425.3 356.4 M395.0 341.0L390.0 349.0L383.0 355.5L377.5 359.0L375.5 362.4L371.0 365.0 M404.5 337.5L414.5 336.7L420.3 338.3L415.8 341.7" fill="none" stroke="#000" stroke-width="1.05" stroke-dasharray="1.4 4.4" stroke-opacity="0.8"/>
<path d="M458.5 126.0L468.5 131.0L471.0 126.0L477.0 121.0L479.0 112.5L493.5 110.0L495.0 106.0L488.5 101.0L490.0 92.5L493.5 80.5L512.0 86.0L513.0 89.0L522.0 90.7L534.5 90.5L549.5 85.5L562.0 79.5L573.0 76.7L584.5 78.0L592.0 82.0L598.0 87.0L612.0 88.0L624.5 89.2L637.0 88.0L652.0 85.5L667.0 80.5L682.0 73.7L692.0 69.5L702.0 67.0L712.0 65.7L722.0 67.0L737.0 68.2L752.0 66.2L768.0 63.7L778.0 56.2L785.5 59.5L786.7 65.7L795.5 64.5L805.5 53.7L818.0 53.7L828.0 55.0L835.5 57.5L850.5 60.0L860.5 60.7L868.0 57.0L875.5 55.7L881.7 58.7L883.0 63.7L880.5 68.7L883.0 72.5L888.0 70.0L895.5 64.5L903.0 63.0L909.0 63.0 M909.0 63.0L910.5 55.0L905.5 51.2L900.5 48.7L899.0 37.5L895.5 32.5L888.0 28.7L881.7 26.2L880.5 20.0 M909.0 63.0L914.0 68.7L915.5 76.2L913.0 81.2L920.5 85.5L924.0 95.0L930.5 101.2L934.0 107.5L938.0 116.2L940.5 122.5L953.0 125.0L959.0 132.0L968.0 132.5L975.5 130.0L985.5 132.5L989.0 135.0L983.0 138.7L974.0 140.0L971.7 147.5L975.5 155.0L980.5 160.0L980.5 168.7L970.5 171.2L965.5 176.2L960.5 182.5L954.0 188.7L957.0 195.0L948.0 202.0L945.5 207.0L950.5 210.7L948.0 219.5L941.7 227.0L948.0 229.5L954.0 238.2L960.5 245.7L968.0 247.0L969.0 252.0L975.5 255.7L980.5 262.0L980.5 269.5L975.5 271.5L979.0 274.5L978.0 278.2L988.0 279.0L998.0 283.2L1008.0 289.5L1018.0 296.5L1024.0 300.7 M786.7 65.7L768.0 84.0L757.0 92.5L737.0 96.2L732.0 102.5L729.5 117.5L734.5 130.0L734.5 142.5L729.5 155.0L727.0 170.0L727.0 185.0L717.0 202.0L712.0 205.7L702.0 208.2L603.2 258.2 M603.2 258.2L520.0 301.8L510.3 307.5L502.1 311.9L496.6 311.4L488.4 310.0L480.8 308.6L476.0 305.5L470.5 301.4L464.4 300.9L462.3 295.9L458.9 294.5L455.4 291.7L448.6 289.7L441.7 292.4L439.0 294.5 M603.2 258.2L617.0 302.0L613.2 303.2L615.7 310.7 M615.7 310.7L627.0 309.0L629.5 315.7L622.0 322.0L612.0 328.2L510.3 354.2L542.0 384.0L562.0 404.5L545.7 412.7L537.0 430.2L512.0 435.2L498.5 437.7L463.5 471.5L407.2 463.5 M622.0 322.0L684.5 331.5L768.0 373.2L783.0 384.0L840.5 424.0L905.5 471.0L993.0 477.7L1024.0 480.0 M999.2 477.0L1015.5 459.0L1024.0 444.0 M460.0 193.0L466.8 193.3L475.0 193.0L476.7 190.7L479.2 193.0L483.3 193.7L483.0 195.1L480.5 195.8L479.8 198.5L477.8 199.5L483.3 201.3L487.4 204.7L488.8 209.5L491.5 215.0L488.1 219.1L484.7 223.2L480.5 223.9L476.4 228.0L474.8 230.8L479.2 232.1L479.2 234.2L475.0 234.2L470.9 233.2L465.4 233.9L460.6 237.6L457.2 242.4L457.2 244.5L462.0 246.5L462.0 248.6L457.9 250.0L455.8 254.1L450.4 257.5L444.9 260.9L440.1 263.7L438.0 262.3L436.2 265.3L435.2 270.5L432.0 272.9L427.2 274.0L423.7 271.4L419.5 272.2L414.7 271.6 M440.4 291.0L439.0 294.5L438.7 300.7L438.3 308.9L437.6 319.9L436.5 326.7L436.9 333.6L437.6 339.8 M437.4 335.0L437.6 339.8 M432.8 364.0L432.0 374.8L427.8 383.1L422.8 393.1L418.7 403.1L417.0 411.4L416.2 418.0L417.0 423.8L413.7 431.3L411.2 441.2L407.9 451.2L406.2 456.0 M369.7 364.0L374.7 376.5L381.3 391.4L384.7 401.4L385.5 409.7L389.6 414.7L394.6 426.3L399.6 439.6L402.1 449.5L403.3 456.0" fill="none" stroke="#000" stroke-width="1" stroke-linejoin="round"/>
<path d="M5.6 20.0L13.0 22.5L13.5 27.5L13.0 32.5L10.0 35.6L5.0 37.0L1.0 36.0L0.0 33.0 M0.0 37.0L7.5 40.6L10.0 43.0L9.8 47.0L11.0 51.0L10.6 54.0L15.0 54.0L19.0 52.0L21.0 50.6L20.6 54.0L23.0 55.6L25.0 57.5L27.0 58.0L30.6 58.0L31.0 60.6L29.4 63.0L28.0 65.6L24.4 67.0L21.0 65.6L19.0 64.4L15.6 65.0L13.0 67.0L12.0 69.4L13.0 73.0L15.6 74.0L19.0 71.0L22.5 71.0L24.4 74.0L29.0 72.5L35.0 71.5L44.0 71.0L52.5 70.0L62.5 70.0L68.0 70.0L65.0 72.0L61.0 73.0L60.0 75.0L54.0 75.6L52.5 78.0L54.0 81.0L57.0 82.5L57.5 85.0L55.0 86.0L56.0 88.5L53.0 90.0L55.0 92.0L58.0 90.0L62.5 88.0L65.0 85.0L64.0 81.0L66.0 80.0L67.5 82.0L71.0 81.0L74.0 79.0L76.0 81.0L82.0 81.5L83.0 86.0L90.0 87.5L93.3 91.5L95.8 87.4L99.1 84.9L106.6 88.2L107.9 90.7L104.1 92.4L104.1 94.9L107.4 97.4L107.9 102.3L111.6 105.7L116.6 108.1L120.7 112.3L122.4 109.8L126.5 112.3L132.3 113.1L131.5 117.3L134.8 114.0L138.1 116.4L139.8 114.4L141.5 116.8L146.4 113.5L153.1 111.8L158.1 110.6L163.0 107.8L168.0 107.3L173.0 109.0L174.7 112.3L178.0 109.0L179.6 106.5L177.6 103.5L180.5 98.2L183.3 94.0L182.1 88.2L183.0 83.2L185.5 79.1L188.8 77.4L191.3 79.1L202.9 79.9L214.5 80.7L222.8 82.4L229.4 85.7L236.1 88.6L246.0 92.4L256.0 95.5L263.5 102.5L271.0 111.0L281.0 117.5L291.0 121.0L297.0 121.0L303.5 119.0L311.0 119.0L318.5 116.0L326.0 116.0L336.0 114.5L342.0 116.0L343.5 113.0L351.0 108.0L355.5 112.0L357.0 107.5L362.0 106.0L363.5 101.0L373.5 92.5L383.5 85.0L392.0 81.0L400.0 81.0L406.0 85.5L416.0 90.0L427.0 95.0L433.5 92.5L441.0 91.0L439.5 87.5L443.0 85.5L446.0 85.5L453.5 80.0L460.0 76.0L465.0 77.0L470.0 82.0L471.5 89.0L467.0 94.0L458.5 99.0L453.5 104.0L450.0 106.0L453.5 114.0L457.0 120.0L458.5 126.0L453.5 130.0L451.0 137.5L447.0 145.0L451.0 149.0L456.0 152.5L457.0 162.5L455.0 174.0L454.5 180.0 M37.5 83.0L44.0 82.0L55.0 82.5L55.0 84.0L52.5 84.3L44.0 84.5L37.5 85.0 M19.0 87.5L22.5 85.0L31.0 84.4L33.0 82.5L37.5 83.0L36.0 85.5L34.0 88.5L21.0 89.4L19.0 87.5 M0.0 82.0L7.0 77.5L16.0 77.0L18.0 78.5L14.0 80.5L9.0 82.0L5.0 84.0L1.0 83.0L0.0 82.0 M6.0 92.5L8.0 91.0L10.5 92.0L10.0 94.3L7.0 94.5L6.0 92.5 M39.0 93.0L42.0 90.6L44.0 91.0L44.0 95.0L42.5 96.0L41.0 94.5L39.0 93.0 M49.0 92.5L53.0 92.0L54.0 93.5L52.0 94.5L49.5 94.3L49.0 92.5 M15.0 100.0L18.0 99.0L19.5 101.0L22.5 102.5L21.0 104.0L18.0 103.0L15.0 100.0 M3.8 56.0L5.2 56.0L5.2 58.5L3.8 58.5L3.8 56.0 M3.8 68.5L5.0 68.5L5.0 70.0L3.8 70.0L3.8 68.5 M5.5 74.0L8.0 74.0L7.5 76.0L5.5 74.0 M0.0 72.0L2.0 72.5L2.5 75.0L0.0 75.5 M62.5 101.0L63.0 104.0L60.0 110.0L54.0 120.0L45.0 127.5L39.0 128.0L37.0 122.5L37.5 115.0L44.0 109.0L54.0 104.0L61.0 100.5L62.5 101.0 M10.0 132.5L12.0 135.0L10.0 142.5L12.0 149.0L9.0 152.5L4.0 150.0L3.0 144.0L6.0 140.0L7.5 134.0L10.0 132.5 M26.0 111.0L29.0 110.6L29.0 112.0L26.0 112.0L26.0 111.0 M35.0 109.0L36.5 109.0L36.5 110.5L35.0 110.5L35.0 109.0 M15.5 99.5L19.0 99.0L21.0 102.0 M269.6 170.0L271.7 171.2L275.1 172.5L279.2 170.9L282.6 166.4L287.4 164.6L292.9 165.4L298.4 166.8L301.8 165.0L303.9 159.5L303.2 155.0L305.3 154.7L312.1 155.8L321.7 157.0L331.3 157.2L340.9 155.8L349.2 153.0L356.0 151.3L364.3 147.6L373.9 143.7L383.5 140.3L388.3 139.3L388.3 140.7L382.1 145.1L373.9 149.9L367.0 153.3L361.5 157.4L356.0 158.8L353.3 162.2L354.7 167.7L358.8 171.8L362.9 176.0L358.8 176.0L354.7 176.6L350.5 176.6L347.8 174.2L345.0 175.3L342.3 176.0L340.2 178.0L338.9 182.1L334.1 184.9L327.2 187.3L320.4 189.3L313.5 190.1L309.4 191.5L308.0 196.5L304.6 196.5L303.6 192.4L299.8 190.4L294.3 192.1L288.8 191.7L283.3 190.1L277.8 187.6L275.1 182.8L272.3 178.0L270.7 173.2L269.6 170.0 M342.3 171.2L345.7 171.8L349.2 171.2L353.3 169.1L354.7 170.5L351.2 173.2L348.0 174.5L345.0 173.5L343.5 175.5L342.3 171.2 M454.5 180.0L457.2 186.2L460.0 193.0L460.2 197.8L457.2 200.6L451.7 202.6L447.6 206.1L443.5 209.5L442.1 215.7L442.4 221.2L441.9 225.3L438.7 230.1L434.2 231.0L433.6 236.2L431.2 242.4L427.7 250.0L423.6 254.1L422.2 258.9L419.5 263.7L419.5 266.4L414.7 271.6L413.6 277.3L412.9 283.5L407.4 285.6L406.3 288.3L405.4 296.5L402.6 308.9L399.2 319.9L393.7 332.2L388.0 342.5L383.0 349.9L376.4 357.4L369.7 363.2L363.1 366.5L353.1 369.9L343.2 372.8L336.5 373.2L329.9 370.7L321.6 367.9L313.3 366.9L306.6 369.0L301.1 372.4L294.4 375.7L287.8 376.2L282.8 374.8L277.8 370.7L271.2 364.9L262.9 362.4L256.2 357.4L252.9 352.4L249.6 351.6L244.6 353.3L238.0 356.2L231.3 356.2L224.7 353.6L218.1 350.3L211.4 348.3L203.1 349.1L193.2 352.4L183.2 355.8L174.9 355.3L171.9 353.6L169.9 360.7L166.6 365.2L163.5 364.5L160.8 365.7L156.6 362.4L151.1 366.5L146.1 370.2L141.1 372.4L131.1 379.0L121.2 384.0L112.9 387.3L104.6 388.1L97.9 385.6L93.0 382.3L86.3 379.5L78.0 376.8L71.4 374.5L66.4 376.2L59.8 374.5L49.8 374.5L46.1 373.5L44.0 366.5L39.8 367.9L33.2 369.9L24.9 368.2L19.9 365.7L16.6 359.6L11.6 360.4L6.6 359.6L0.0 357.4 M181.5 357.9L186.5 355.8L194.8 354.1L203.1 351.6L208.1 350.3L211.1 351.6L210.6 354.1L206.4 354.6L203.9 356.9L198.1 357.4L192.3 356.9L189.8 359.1L183.2 359.6L181.5 357.9 M249.6 352.4L248.8 358.2L245.5 361.6L244.6 364.9L249.6 366.5L256.2 368.2L258.7 374.0L262.9 376.2L266.2 374.0L269.5 372.4L271.2 367.4L270.4 364.9 M294.4 375.7L299.4 374.0L305.0 374.8L307.5 376.2L310.0 372.4L313.3 370.2L314.1 375.7L318.3 375.7L322.4 374.0L327.4 371.9L330.7 371.2 M161.6 364.9L164.1 367.4L168.3 365.7L165.8 364.5 M272.0 409.7L275.3 408.0L278.7 412.2L281.1 416.3L284.5 417.2L285.3 420.5L282.8 419.7L279.5 416.3L273.7 414.7L271.5 412.2L272.0 409.7 M439.7 282.1L442.8 283.5L442.8 287.0L440.4 291.1L438.3 289.7L436.5 285.6L437.5 283.0L439.7 282.1 M434.2 341.1L438.3 339.8L439.7 340.4L439.3 347.3L438.3 352.8L438.7 358.3L436.9 363.1L435.6 363.8L434.9 359.7L433.5 362.4L430.8 363.1L429.7 356.9L430.5 348.7L432.8 343.2L434.2 341.1 M434.5 343.0L433.5 352.0L433.7 359.0 M428.6 367.4L432.8 366.2L436.5 369.0L436.1 374.0L431.1 374.5L428.6 371.5L428.6 367.4 M383.7 533.0L386.5 532.6L389.5 534.8L387.0 536.3L384.5 535.5L383.7 533.0 M392.8 535.0L394.5 534.3L396.1 535.7L394.6 537.0L393.0 536.6L392.8 535.0 M350.0 557.0L354.0 557.0L356.5 560.0L353.0 561.0L350.0 557.0 M447.5 576.0L449.0 575.5L450.0 578.0L448.5 578.5L447.5 576.0 M824.2 208.2L826.7 210.7L829.2 217.0L835.5 223.2L841.7 227.0L845.0 231.5L842.5 234.5L843.0 239.5L840.5 241.5L831.7 239.5L826.7 234.5L823.0 227.0L821.7 217.0L822.5 210.7L824.2 208.2 M834.2 259.5L838.0 258.2L840.5 254.5L843.0 258.2L848.0 259.5L849.2 263.2L845.5 267.0L841.7 266.5L839.2 263.2L834.2 261.5L834.2 259.5 M846.0 271.5L846.7 275.0L850.5 276.5L854.2 284.5L859.2 290.7L864.2 291.5L865.0 295.7L861.7 300.7L858.0 302.0L853.0 298.2L845.5 297.0L841.7 293.2L840.5 287.0L843.0 282.0L844.2 277.0L846.0 271.5 M573.2 106.2L574.5 110.0L570.7 113.0L568.2 118.7L570.7 122.5L577.0 126.2L583.2 127.0L588.2 128.0L592.0 130.0L587.0 132.5L582.0 132.0L580.7 134.5L578.2 131.2L572.0 127.0L565.7 122.5L564.0 117.5L565.7 112.5L570.7 107.5L573.2 106.2 M575.7 41.2L580.7 38.0L585.7 38.7L583.2 42.5L590.7 41.2L598.2 37.5L597.0 32.0L600.7 36.2L605.7 35.5L608.2 31.2L613.2 26.2L614.5 30.0L610.7 36.2L607.0 38.7L599.5 40.0L594.5 45.0L590.7 50.0L584.5 47.0L579.5 47.5L575.7 41.2 M924.0 20.0L925.5 27.5L933.0 32.5L935.5 42.5L938.0 52.5L939.0 60.0L945.5 65.5L953.0 63.7L954.0 57.5L961.7 56.2L968.0 52.0L963.0 46.2L958.0 39.5L961.7 37.5L954.0 32.5L945.5 32.0L943.0 26.2L945.5 20.0 M947.0 52.0L949.0 50.0L950.0 53.0L948.0 54.0L947.0 52.0 M951.5 46.0L954.0 45.0L955.0 48.0L952.5 48.5L951.5 46.0 M1007.3 385.3L1010.5 384.3L1014.3 382.4L1018.7 384.0L1024.0 386.8 M1009.9 385.9L1008.6 388.1L1013.0 388.7L1014.9 390.6L1018.7 389.4L1021.2 390.9L1024.0 393.5 M1008.3 392.2L1010.5 391.6L1011.8 392.8L1009.9 393.5L1008.3 392.2 M1013.7 392.8L1016.8 394.4L1019.3 392.8L1017.0 391.5L1013.7 392.8 M490.2 642.7L488.9 645.9L490.8 649.6L487.0 652.2L485.8 653.8L488.9 655.9L495.2 657.2L500.3 659.7L502.8 664.1L506.6 667.3L508.5 665.4L505.3 662.2L509.1 662.9L512.9 665.4L514.8 664.1L512.5 661.5L510.0 661.0 M503.5 657.0L505.0 656.3L505.5 658.0L504.0 658.5L503.5 657.0 M507.0 656.0L508.3 655.5L508.8 657.0L507.5 657.5L507.0 656.0 M515.5 687.0L517.5 687.0L518.5 689.0L516.5 689.3L515.5 687.0 M193.7 21.2L197.5 27.5L202.5 22.5L201.0 21.0 M221.2 23.7L226.2 22.5L233.7 28.7L240.0 36.2L236.0 39.5L231.2 40.0L227.5 33.7L222.5 26.2L221.2 23.7 M284.9 430.0L282.0 431.5L280.7 434.1L281.6 437.4L276.6 444.1L273.3 450.7L275.8 454.9L283.2 459.8L286.6 464.0L289.0 471.5L288.2 482.2L292.4 488.9L298.2 493.9L299.8 501.3L306.5 508.0L313.1 517.1L321.4 525.4L328.1 530.4L333.0 534.5L333.5 540.0L331.0 543.0L336.0 549.0L335.0 554.0L341.0 563.0L343.5 564.5L350.0 573.0L352.0 581.0L357.0 588.0L356.0 593.0L355.0 601.0L360.0 603.0L366.0 618.0L376.0 634.5L386.0 648.0L392.0 657.0L398.5 672.0L406.0 686.0L412.0 697.0L417.0 709.5L418.5 713.0 M533.0 713.0L531.8 710.8L529.3 707.0L525.5 702.0L523.6 698.2L521.7 696.3L519.8 694.4L524.2 693.1L526.1 688.7L524.9 686.8L525.5 683.1L524.9 678.6L521.7 674.2L517.3 669.2L515.4 664.1L513.5 661.0L510.4 655.9L505.9 651.5L502.2 647.1L500.3 649.6L497.1 646.5L494.6 641.4L496.5 638.9L497.1 635.1L494.0 632.0L488.9 631.3L486.4 627.6L483.5 619.5L476.0 607.0L466.0 596.0L456.0 582.0L451.0 573.0L446.0 567.0L436.0 554.5L431.0 547.0L426.0 538.7L421.0 532.9L420.2 529.6L412.7 526.2L406.1 527.9L401.1 527.9L397.8 527.1L392.8 525.4L391.1 530.4L390.3 525.4L392.8 519.6L397.0 511.3L399.4 503.0L398.6 498.0L401.1 489.7L401.9 480.6L404.4 473.1L407.7 463.2L409.4 454.0L408.6 454.0L402.8 457.3L397.8 464.8L393.6 476.4L392.8 481.4L391.1 491.4L387.8 499.7L383.7 508.0L380.4 514.6L379.5 519.6L381.2 526.2L380.4 532.9L376.2 537.9L373.7 540.3L371.0 546.5L369.0 544.0L362.0 542.0L359.6 540.3L349.6 534.5L343.0 527.9L338.0 521.3L333.0 516.3L326.4 511.3L322.2 505.5L318.9 502.2L318.1 496.4L316.4 489.7L316.4 483.1L313.1 478.9L306.5 473.1L299.8 466.5L298.2 461.5L293.2 457.3L291.5 449.9L290.7 442.4L286.6 436.6L284.9 430.0" fill="none" stroke="#000" stroke-width="1.25" stroke-linejoin="round" stroke-linecap="round"/>
<rect x="0.5" y="21.5" width="1023" height="690" fill="none" stroke="#000" stroke-width="1" stroke-dasharray="1.2 4.8" stroke-opacity="0.75"/>
</g>
</svg>
</body></html>
